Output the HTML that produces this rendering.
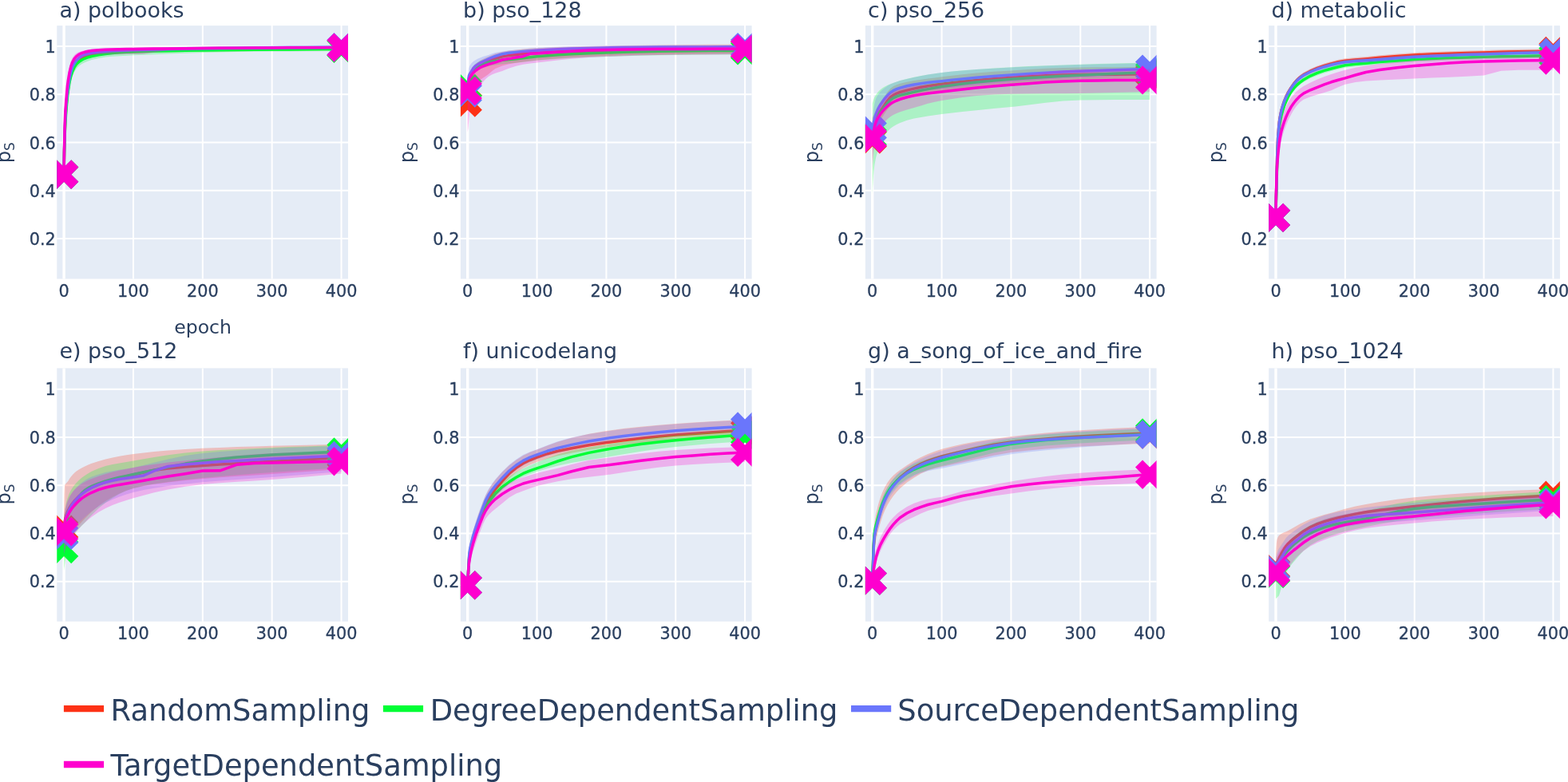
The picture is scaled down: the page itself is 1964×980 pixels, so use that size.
<!DOCTYPE html>
<html><head><meta charset="utf-8"><style>html,body{margin:0;padding:0;background:#fff;overflow:hidden}</style></head>
<body>
<svg width="1964" height="980" viewBox="0 0 1964 980" style="display:block">
<rect width="1964" height="980" fill="#fff"/>
<defs>
<clipPath id="cp00"><rect x="71.30" y="32.10" width="364.70" height="317.40"/></clipPath>
<clipPath id="cp01"><rect x="576.90" y="32.10" width="364.70" height="317.40"/></clipPath>
<clipPath id="cp02"><rect x="1083.90" y="32.10" width="364.70" height="317.40"/></clipPath>
<clipPath id="cp03"><rect x="1589.20" y="32.10" width="364.70" height="317.40"/></clipPath>
<clipPath id="cp10"><rect x="71.30" y="461.40" width="364.70" height="317.40"/></clipPath>
<clipPath id="cp11"><rect x="576.90" y="461.40" width="364.70" height="317.40"/></clipPath>
<clipPath id="cp12"><rect x="1083.90" y="461.40" width="364.70" height="317.40"/></clipPath>
<clipPath id="cp13"><rect x="1589.20" y="461.40" width="364.70" height="317.40"/></clipPath>
</defs>
<rect x="71.30" y="32.10" width="364.70" height="317.40" fill="#e5ecf6"/>
<path d="M166.96,32.10V349.50M253.82,32.10V349.50M340.68,32.10V349.50M427.54,32.10V349.50M71.30,299.12H436.00M71.30,238.84H436.00M71.30,178.56H436.00M71.30,118.28H436.00M71.30,58.00H436.00" stroke="#fff" stroke-width="2.0" fill="none"/>
<path d="M80.10,32.10V349.50" stroke="#fff" stroke-width="3.4" fill="none"/>
<rect x="576.90" y="32.10" width="364.70" height="317.40" fill="#e5ecf6"/>
<path d="M672.56,32.10V349.50M759.42,32.10V349.50M846.28,32.10V349.50M933.14,32.10V349.50M576.90,299.12H941.60M576.90,238.84H941.60M576.90,178.56H941.60M576.90,118.28H941.60M576.90,58.00H941.60" stroke="#fff" stroke-width="2.0" fill="none"/>
<path d="M585.70,32.10V349.50" stroke="#fff" stroke-width="3.4" fill="none"/>
<rect x="1083.90" y="32.10" width="364.70" height="317.40" fill="#e5ecf6"/>
<path d="M1179.56,32.10V349.50M1266.42,32.10V349.50M1353.28,32.10V349.50M1440.14,32.10V349.50M1083.90,299.12H1448.60M1083.90,238.84H1448.60M1083.90,178.56H1448.60M1083.90,118.28H1448.60M1083.90,58.00H1448.60" stroke="#fff" stroke-width="2.0" fill="none"/>
<path d="M1092.70,32.10V349.50" stroke="#fff" stroke-width="3.4" fill="none"/>
<rect x="1589.20" y="32.10" width="364.70" height="317.40" fill="#e5ecf6"/>
<path d="M1684.86,32.10V349.50M1771.72,32.10V349.50M1858.58,32.10V349.50M1945.44,32.10V349.50M1589.20,299.12H1953.90M1589.20,238.84H1953.90M1589.20,178.56H1953.90M1589.20,118.28H1953.90M1589.20,58.00H1953.90" stroke="#fff" stroke-width="2.0" fill="none"/>
<path d="M1598.00,32.10V349.50" stroke="#fff" stroke-width="3.4" fill="none"/>
<rect x="71.30" y="461.40" width="364.70" height="317.40" fill="#e5ecf6"/>
<path d="M166.96,461.40V778.80M253.82,461.40V778.80M340.68,461.40V778.80M427.54,461.40V778.80M71.30,728.82H436.00M71.30,668.54H436.00M71.30,608.26H436.00M71.30,547.98H436.00M71.30,487.70H436.00" stroke="#fff" stroke-width="2.0" fill="none"/>
<path d="M80.10,461.40V778.80" stroke="#fff" stroke-width="3.4" fill="none"/>
<rect x="576.90" y="461.40" width="364.70" height="317.40" fill="#e5ecf6"/>
<path d="M672.56,461.40V778.80M759.42,461.40V778.80M846.28,461.40V778.80M933.14,461.40V778.80M576.90,728.82H941.60M576.90,668.54H941.60M576.90,608.26H941.60M576.90,547.98H941.60M576.90,487.70H941.60" stroke="#fff" stroke-width="2.0" fill="none"/>
<path d="M585.70,461.40V778.80" stroke="#fff" stroke-width="3.4" fill="none"/>
<rect x="1083.90" y="461.40" width="364.70" height="317.40" fill="#e5ecf6"/>
<path d="M1179.56,461.40V778.80M1266.42,461.40V778.80M1353.28,461.40V778.80M1440.14,461.40V778.80M1083.90,728.82H1448.60M1083.90,668.54H1448.60M1083.90,608.26H1448.60M1083.90,547.98H1448.60M1083.90,487.70H1448.60" stroke="#fff" stroke-width="2.0" fill="none"/>
<path d="M1092.70,461.40V778.80" stroke="#fff" stroke-width="3.4" fill="none"/>
<rect x="1589.20" y="461.40" width="364.70" height="317.40" fill="#e5ecf6"/>
<path d="M1684.86,461.40V778.80M1771.72,461.40V778.80M1858.58,461.40V778.80M1945.44,461.40V778.80M1589.20,728.82H1953.90M1589.20,668.54H1953.90M1589.20,608.26H1953.90M1589.20,547.98H1953.90M1589.20,487.70H1953.90" stroke="#fff" stroke-width="2.0" fill="none"/>
<path d="M1598.00,461.40V778.80" stroke="#fff" stroke-width="3.4" fill="none"/>
<g clip-path="url(#cp00)"><path d="M80.1,215.7L80.3,200.0L80.5,187.4L80.8,177.2L81.0,169.0L81.4,157.1L81.8,148.0L82.3,140.0L82.7,133.3L83.6,123.2L84.4,115.4L85.3,108.7L86.2,102.6L87.0,97.4L88.8,89.8L90.5,84.5L93.1,78.6L95.7,74.9L99.2,71.7L102.7,69.5L106.2,67.8L110.5,66.2L114.8,65.1L123.5,63.7L132.2,62.7L140.9,62.0L149.6,61.4L158.3,61.0L167.0,60.6L180.0,60.2L193.0,59.9L210.4,59.5L232.1,59.1L253.8,58.8L275.5,58.5L297.2,58.3L319.0,58.1L340.7,57.9L362.4,57.7L384.1,57.5L405.8,57.4L427.5,57.2L427.5,63.2L405.8,63.4L384.1,63.5L362.4,63.7L340.7,63.9L319.0,64.1L297.2,64.3L275.5,64.5L253.8,64.8L232.1,65.1L210.4,65.5L193.0,65.9L180.0,66.2L167.0,66.6L158.3,67.0L149.6,67.4L140.9,68.0L132.2,68.7L123.5,69.7L114.8,71.1L110.5,72.2L106.2,73.8L102.7,75.5L99.2,77.7L95.7,80.9L93.1,84.6L90.5,90.5L88.8,95.8L87.0,103.4L86.2,108.6L85.3,114.7L84.4,121.4L83.6,129.2L82.7,139.3L82.3,146.0L81.8,154.0L81.4,163.1L81.0,175.0L80.8,183.2L80.5,193.4L80.3,206.0L80.1,221.7Z" fill="rgba(253,50,22,0.25)" stroke="none"/><path d="M80.1,218.7L80.3,203.0L80.5,190.4L80.8,180.2L81.0,172.0L81.4,160.1L81.8,151.0L82.3,143.0L82.7,136.3L83.6,126.2L84.4,118.4L85.3,111.7L86.2,105.6L87.0,100.4L88.8,92.8L90.5,87.5L93.1,81.6L95.7,77.9L99.2,74.7L102.7,72.5L106.2,70.8L110.5,69.2L114.8,68.1L123.5,66.7L132.2,65.7L140.9,65.0L149.6,64.4L158.3,64.0L167.0,63.6L180.0,63.2L193.0,62.9L210.4,62.5L232.1,62.1L253.8,61.8L275.5,61.5L297.2,61.3L319.0,61.1L340.7,60.9L362.4,60.7L384.1,60.5L405.8,60.4L427.5,60.2" fill="none" stroke="#FD3216" stroke-width="3.5" stroke-linejoin="round"/><path d="M80.1,227.8L89.2,236.9L98.3,227.8L89.2,218.7L98.3,209.6L89.2,200.5L80.1,209.6L71.0,200.5L61.9,209.6L71.0,218.7L61.9,227.8L71.0,236.9ZM427.5,69.3L436.6,78.4L445.7,69.3L436.6,60.2L445.7,51.1L436.6,42.0L427.5,51.1L418.5,42.0L409.4,51.1L418.5,60.2L409.4,69.3L418.5,78.4Z" fill="#FD3216"/><path d="M80.1,218.7L80.3,203.2L80.5,190.6L80.8,180.4L81.0,172.0L81.4,159.4L81.8,150.0L82.3,142.2L82.7,135.7L83.6,125.0L84.4,116.4L85.3,109.4L86.2,103.7L87.0,98.8L88.8,91.4L90.5,86.1L93.1,80.6L95.7,77.0L99.2,74.0L102.7,72.0L106.2,70.5L110.5,69.1L114.8,68.0L123.5,66.5L132.2,65.5L140.9,64.7L149.6,64.0L158.3,63.6L167.0,63.3L180.0,62.9L193.0,62.5L210.4,62.2L232.1,61.8L253.8,61.5L275.5,61.2L297.2,61.0L319.0,60.8L340.7,60.6L362.4,60.4L384.1,60.3L405.8,60.1L427.5,60.0L427.5,64.1L405.8,64.2L384.1,64.3L362.4,64.4L340.7,64.6L319.0,64.8L297.2,65.1L275.5,65.5L253.8,66.0L232.1,66.7L210.4,67.5L193.0,68.2L180.0,68.7L167.0,69.3L158.3,69.7L149.6,70.3L140.9,70.8L132.2,71.6L123.5,72.9L114.8,75.0L110.5,76.4L106.2,78.2L102.7,80.0L99.2,82.5L95.7,86.0L93.1,90.2L90.5,96.1L88.8,101.4L87.0,109.2L86.2,114.5L85.3,120.5L84.4,127.6L83.6,136.1L82.7,146.5L82.3,152.7L81.8,160.0L81.4,168.7L81.0,180.0L80.8,187.2L80.5,195.9L80.3,206.2L80.1,218.7Z" fill="rgba(0,254,53,0.25)" stroke="none"/><path d="M80.1,218.7L80.3,204.1L80.5,192.3L80.8,182.7L81.0,175.0L81.4,163.7L81.8,155.0L82.3,147.3L82.7,140.7L83.6,130.0L84.4,121.5L85.3,114.5L86.2,108.5L87.0,103.2L88.8,95.4L90.5,90.1L93.1,84.4L95.7,80.5L99.2,77.2L102.7,75.0L106.2,73.3L110.5,71.7L114.8,70.5L123.5,68.8L132.2,67.6L140.9,66.6L149.6,65.8L158.3,65.3L167.0,64.9L180.0,64.4L193.0,64.1L210.4,63.7L232.1,63.3L253.8,63.0L275.5,62.7L297.2,62.5L319.0,62.3L340.7,62.1L362.4,61.9L384.1,61.8L405.8,61.6L427.5,61.5" fill="none" stroke="#00FE35" stroke-width="3.5" stroke-linejoin="round"/><path d="M80.1,227.8L89.2,236.9L98.3,227.8L89.2,218.7L98.3,209.6L89.2,200.5L80.1,209.6L71.0,200.5L61.9,209.6L71.0,218.7L61.9,227.8L71.0,236.9ZM427.5,69.8L436.6,78.9L445.7,69.8L436.6,60.7L445.7,51.6L436.6,42.5L427.5,51.6L418.5,42.5L409.4,51.6L418.5,60.7L409.4,69.8L418.5,78.9Z" fill="#00FE35"/><path d="M80.1,216.2L80.3,199.9L80.5,186.7L80.8,176.1L81.0,167.5L81.4,155.0L81.8,145.5L82.3,137.2L82.7,130.5L83.6,120.9L84.4,113.5L85.3,106.9L86.2,100.9L87.0,95.7L88.8,87.8L90.5,82.3L93.1,76.9L95.7,73.2L99.2,69.7L102.7,67.5L106.2,66.0L110.5,64.7L114.8,63.7L123.5,62.4L132.2,61.7L140.9,61.1L149.6,60.7L158.3,60.4L167.0,60.1L180.0,59.7L193.0,59.4L210.4,59.0L232.1,58.6L253.8,58.3L275.5,58.0L297.2,57.7L319.0,57.5L340.7,57.3L362.4,57.1L384.1,57.0L405.8,56.8L427.5,56.7L427.5,61.7L405.8,61.8L384.1,62.0L362.4,62.1L340.7,62.3L319.0,62.5L297.2,62.7L275.5,63.0L253.8,63.3L232.1,63.6L210.4,64.0L193.0,64.4L180.0,64.7L167.0,65.1L158.3,65.4L149.6,65.7L140.9,66.1L132.2,66.7L123.5,67.4L114.8,68.7L110.5,69.7L106.2,71.0L102.7,72.5L99.2,74.7L95.7,78.2L93.1,81.9L90.5,87.3L88.8,92.8L87.0,100.7L86.2,105.9L85.3,111.9L84.4,118.5L83.6,125.9L82.7,135.5L82.3,142.2L81.8,150.5L81.4,160.0L81.0,172.5L80.8,181.1L80.5,191.7L80.3,204.9L80.1,221.2Z" fill="rgba(106,118,252,0.25)" stroke="none"/><path d="M80.1,218.7L80.3,202.4L80.5,189.2L80.8,178.6L81.0,170.0L81.4,157.5L81.8,148.0L82.3,139.7L82.7,133.0L83.6,123.4L84.4,116.0L85.3,109.4L86.2,103.4L87.0,98.2L88.8,90.3L90.5,84.8L93.1,79.4L95.7,75.7L99.2,72.2L102.7,70.0L106.2,68.5L110.5,67.2L114.8,66.2L123.5,64.9L132.2,64.2L140.9,63.6L149.6,63.2L158.3,62.9L167.0,62.6L180.0,62.2L193.0,61.9L210.4,61.5L232.1,61.1L253.8,60.8L275.5,60.5L297.2,60.2L319.0,60.0L340.7,59.8L362.4,59.6L384.1,59.5L405.8,59.3L427.5,59.2" fill="none" stroke="#6A76FC" stroke-width="3.5" stroke-linejoin="round"/><path d="M80.1,227.8L89.2,236.9L98.3,227.8L89.2,218.7L98.3,209.6L89.2,200.5L80.1,209.6L71.0,200.5L61.9,209.6L71.0,218.7L61.9,227.8L71.0,236.9ZM427.5,68.3L436.6,77.4L445.7,68.3L436.6,59.2L445.7,50.1L436.6,41.0L427.5,50.1L418.5,41.0L409.4,50.1L418.5,59.2L409.4,68.3L418.5,77.4Z" fill="#6A76FC"/><path d="M80.1,218.7L80.3,198.1L80.5,181.6L80.8,168.4L81.0,158.0L81.4,142.6L81.8,132.0L82.3,124.7L82.7,118.6L83.6,108.0L84.4,99.7L85.3,93.4L86.2,88.3L87.0,84.0L88.8,77.0L90.5,72.7L93.1,68.9L95.7,66.8L99.2,65.1L102.7,63.9L106.2,63.1L110.5,62.3L114.8,61.8L123.5,61.0L132.2,60.5L140.9,60.2L149.6,60.1L158.3,59.9L167.0,59.8L180.0,59.6L193.0,59.4L210.4,59.2L232.1,58.9L253.8,58.7L275.5,58.5L297.2,58.4L319.0,58.2L340.7,58.1L362.4,58.0L384.1,57.9L405.8,57.9L427.5,57.8L427.5,60.5L405.8,60.6L384.1,60.7L362.4,60.8L340.7,61.0L319.0,61.2L297.2,61.4L275.5,61.6L253.8,62.0L232.1,62.4L210.4,63.1L193.0,65.8L180.0,67.8L167.0,68.0L158.3,68.1L149.6,68.1L140.9,68.2L132.2,68.3L123.5,68.6L114.8,69.1L110.5,69.5L106.2,70.4L102.7,71.7L99.2,73.3L95.7,75.8L93.1,78.6L90.5,83.3L88.8,88.3L87.0,96.0L86.2,100.6L85.3,106.0L84.4,112.8L83.6,122.2L82.7,133.7L82.3,139.1L81.8,145.0L81.4,155.2L81.0,170.0L80.8,179.1L80.5,189.9L80.3,202.9L80.1,218.7Z" fill="rgba(254,0,206,0.25)" stroke="none"/><path d="M80.1,218.7L80.3,200.8L80.5,186.4L80.8,174.6L81.0,165.0L81.4,150.2L81.8,140.0L82.3,133.4L82.7,127.6L83.6,116.6L84.4,107.7L85.3,101.1L86.2,95.6L87.0,91.0L88.8,83.3L90.5,78.3L93.1,73.6L95.7,70.6L99.2,68.0L102.7,66.4L106.2,65.3L110.5,64.3L114.8,63.6L123.5,62.7L132.2,62.2L140.9,62.0L149.6,61.8L158.3,61.6L167.0,61.4L180.0,61.2L193.0,61.1L210.4,60.9L232.1,60.7L253.8,60.5L275.5,60.3L297.2,60.2L319.0,60.0L340.7,59.9L362.4,59.8L384.1,59.7L405.8,59.7L427.5,59.6" fill="none" stroke="#FE00CE" stroke-width="3.5" stroke-linejoin="round"/><path d="M80.1,227.8L89.2,236.9L98.3,227.8L89.2,218.7L98.3,209.6L89.2,200.5L80.1,209.6L71.0,200.5L61.9,209.6L71.0,218.7L61.9,227.8L71.0,236.9ZM427.5,68.7L436.6,77.8L445.7,68.7L436.6,59.6L445.7,50.5L436.6,41.4L427.5,50.5L418.5,41.4L409.4,50.5L418.5,59.6L409.4,68.7L418.5,77.8Z" fill="#FE00CE"/></g>
<g clip-path="url(#cp01)"><path d="M585.7,122.6L585.9,117.6L586.1,113.4L586.4,109.8L586.6,106.9L587.0,102.3L587.4,99.0L587.9,96.7L588.3,94.9L589.2,92.3L590.0,90.0L590.9,87.9L591.8,86.1L592.6,84.5L594.4,82.0L596.1,80.1L598.7,77.9L601.3,76.1L604.8,74.0L608.3,72.2L611.8,70.7L616.1,68.9L620.4,67.3L629.1,64.9L637.8,63.4L646.5,62.4L655.2,61.5L663.9,60.8L672.6,60.3L685.6,59.7L698.6,59.1L716.0,58.6L737.7,58.0L759.4,57.5L781.1,57.1L802.8,56.7L824.6,56.4L846.3,56.2L868.0,56.0L889.7,55.8L911.4,55.7L933.1,55.6L933.1,67.0L911.4,67.2L889.7,67.4L868.0,67.7L846.3,68.0L824.6,68.4L802.8,68.8L781.1,69.3L759.4,70.0L737.7,70.9L716.0,72.1L698.6,73.3L685.6,74.3L672.6,75.5L663.9,76.4L655.2,77.4L646.5,78.7L637.8,80.3L629.1,82.5L620.4,86.0L616.1,89.3L611.8,93.1L608.3,95.5L604.8,97.8L601.3,100.0L598.7,101.6L596.1,103.4L594.4,105.0L592.6,107.1L591.8,108.4L590.9,110.0L590.0,112.0L589.2,114.6L588.3,117.9L587.9,120.0L587.4,122.5L587.0,125.5L586.6,129.1L586.4,131.3L586.1,133.8L585.9,136.7L585.7,140.0Z" fill="rgba(253,50,22,0.25)" stroke="none"/><path d="M585.7,128.6L585.9,123.6L586.1,119.4L586.4,115.8L586.6,112.9L587.0,108.3L587.4,105.0L587.9,102.7L588.3,100.9L589.2,98.3L590.0,96.0L590.9,93.9L591.8,92.1L592.6,90.5L594.4,88.0L596.1,86.1L598.7,83.9L601.3,82.1L604.8,80.0L608.3,78.2L611.8,76.7L616.1,74.9L620.4,73.3L629.1,70.9L637.8,69.4L646.5,68.4L655.2,67.5L663.9,66.8L672.6,66.3L685.6,65.7L698.6,65.1L716.0,64.6L737.7,64.0L759.4,63.5L781.1,63.1L802.8,62.7L824.6,62.4L846.3,62.2L868.0,62.0L889.7,61.8L911.4,61.7L933.1,61.6" fill="none" stroke="#FD3216" stroke-width="3.5" stroke-linejoin="round"/><path d="M585.7,137.7L594.8,146.8L603.9,137.7L594.8,128.6L603.9,119.5L594.8,110.4L585.7,119.5L576.6,110.4L567.5,119.5L576.6,128.6L567.5,137.7L576.6,146.8ZM933.1,70.7L942.2,79.8L951.3,70.7L942.2,61.6L951.3,52.5L942.2,43.4L933.1,52.5L924.1,43.4L915.0,52.5L924.1,61.6L915.0,70.7L924.1,79.8Z" fill="#FD3216"/><path d="M585.7,106.0L585.9,103.3L586.1,101.1L586.4,99.2L586.6,97.6L587.0,95.0L587.4,93.0L587.9,91.5L588.3,90.4L589.2,88.6L590.0,87.0L590.9,85.5L591.8,84.1L592.6,82.9L594.4,81.0L596.1,79.5L598.7,77.7L601.3,76.3L604.8,75.0L608.3,73.9L611.8,73.0L616.1,72.2L620.4,71.4L629.1,70.3L637.8,69.4L646.5,68.7L655.2,67.8L663.9,66.8L672.6,65.8L685.6,64.7L698.6,63.8L716.0,62.8L737.7,61.8L759.4,61.0L781.1,60.3L802.8,59.8L824.6,59.3L846.3,59.0L868.0,58.8L889.7,58.6L911.4,58.5L933.1,58.4L933.1,68.4L911.4,68.5L889.7,68.6L868.0,68.8L846.3,69.0L824.6,69.3L802.8,69.8L781.1,70.3L759.4,71.0L737.7,71.8L716.0,72.8L698.6,73.8L685.6,74.7L672.6,75.8L663.9,76.8L655.2,77.8L646.5,78.7L637.8,79.4L629.1,80.3L620.4,81.4L616.1,82.2L611.8,83.0L608.3,83.9L604.8,85.0L601.3,86.3L598.7,87.7L596.1,89.5L594.4,91.0L592.6,92.9L591.8,94.1L590.9,95.5L590.0,97.0L589.2,98.6L588.3,100.4L587.9,101.5L587.4,103.0L587.0,105.0L586.6,107.6L586.4,109.2L586.1,111.1L585.9,113.3L585.7,116.0Z" fill="rgba(0,254,53,0.25)" stroke="none"/><path d="M585.7,111.0L585.9,108.3L586.1,106.1L586.4,104.2L586.6,102.6L587.0,100.0L587.4,98.0L587.9,96.5L588.3,95.4L589.2,93.6L590.0,92.0L590.9,90.5L591.8,89.1L592.6,87.9L594.4,86.0L596.1,84.5L598.7,82.7L601.3,81.3L604.8,80.0L608.3,78.9L611.8,78.0L616.1,77.2L620.4,76.4L629.1,75.3L637.8,74.4L646.5,73.7L655.2,72.8L663.9,71.8L672.6,70.8L685.6,69.7L698.6,68.8L716.0,67.8L737.7,66.8L759.4,66.0L781.1,65.3L802.8,64.8L824.6,64.3L846.3,64.0L868.0,63.8L889.7,63.6L911.4,63.5L933.1,63.4" fill="none" stroke="#00FE35" stroke-width="3.5" stroke-linejoin="round"/><path d="M585.7,120.1L594.8,129.2L603.9,120.1L594.8,111.0L603.9,101.9L594.8,92.8L585.7,101.9L576.6,92.8L567.5,101.9L576.6,111.0L567.5,120.1L576.6,129.2ZM933.1,72.5L942.2,81.6L951.3,72.5L942.2,63.4L951.3,54.3L942.2,45.2L933.1,54.3L924.1,45.2L915.0,54.3L924.1,63.4L915.0,72.5L924.1,81.6Z" fill="#00FE35"/><path d="M585.7,110.0L585.9,104.2L586.1,99.3L586.4,95.4L586.6,92.2L587.0,87.6L587.4,85.0L587.9,83.6L588.3,82.6L589.2,81.2L590.0,80.0L590.9,79.0L591.8,78.1L592.6,77.3L594.4,76.0L596.1,74.9L598.7,73.5L601.3,72.4L604.8,71.1L608.3,70.0L611.8,68.9L616.1,67.3L620.4,66.0L629.1,64.4L637.8,63.3L646.5,62.5L655.2,61.7L663.9,60.6L672.6,59.8L685.6,59.1L698.6,58.6L716.0,58.1L737.7,57.6L759.4,57.3L781.1,57.1L802.8,56.9L824.6,56.7L846.3,56.6L868.0,56.5L889.7,56.4L911.4,56.4L933.1,56.3L933.1,63.8L911.4,63.8L889.7,63.9L868.0,63.9L846.3,64.0L824.6,64.1L802.8,64.3L781.1,64.6L759.4,64.9L737.7,65.4L716.0,66.1L698.6,66.8L685.6,67.5L672.6,68.3L663.9,68.9L655.2,69.6L646.5,70.4L637.8,71.3L629.1,72.7L620.4,75.5L616.1,77.1L611.8,78.9L608.3,80.5L604.8,82.2L601.3,84.1L598.7,85.6L596.1,87.4L594.4,88.9L592.6,91.0L591.8,92.4L590.9,93.8L590.0,95.3L589.2,96.6L588.3,97.8L587.9,98.7L587.4,100.0L587.0,102.3L586.6,106.3L586.4,109.0L586.1,112.4L585.9,116.5L585.7,121.5Z" fill="rgba(106,118,252,0.25)" stroke="none"/><path d="M585.7,116.5L585.9,111.5L586.1,107.4L586.4,104.0L586.6,101.3L587.0,97.3L587.4,95.0L587.9,93.7L588.3,92.8L589.2,91.6L590.0,90.3L590.9,88.8L591.8,87.4L592.6,86.0L594.4,83.9L596.1,82.4L598.7,80.6L601.3,79.1L604.8,77.2L608.3,75.5L611.8,73.9L616.1,72.1L620.4,70.5L629.1,67.7L637.8,66.3L646.5,65.4L655.2,64.6L663.9,63.9L672.6,63.3L685.6,62.5L698.6,61.8L716.0,61.1L737.7,60.4L759.4,59.9L781.1,59.6L802.8,59.3L824.6,59.1L846.3,59.0L868.0,58.9L889.7,58.9L911.4,58.8L933.1,58.8" fill="none" stroke="#6A76FC" stroke-width="3.5" stroke-linejoin="round"/><path d="M585.7,125.6L594.8,134.7L603.9,125.6L594.8,116.5L603.9,107.4L594.8,98.3L585.7,107.4L576.6,98.3L567.5,107.4L576.6,116.5L567.5,125.6L576.6,134.7ZM933.1,68.3L942.2,77.4L951.3,68.3L942.2,59.2L951.3,50.1L942.2,41.0L933.1,50.1L924.1,41.0L915.0,50.1L924.1,59.2L915.0,68.3L924.1,77.4Z" fill="#6A76FC"/><path d="M585.7,105.0L585.9,102.2L586.1,99.9L586.4,98.0L586.6,96.3L587.0,93.8L587.4,92.0L587.9,90.7L588.3,89.8L589.2,88.3L590.0,87.0L590.9,85.7L591.8,84.5L592.6,83.5L594.4,81.6L596.1,80.2L598.7,78.5L601.3,77.3L604.8,75.8L608.3,74.5L611.8,73.5L616.1,72.4L620.4,71.5L629.1,69.7L637.8,68.0L646.5,66.0L655.2,64.0L663.9,62.5L672.6,61.5L685.6,60.6L698.6,60.0L716.0,59.4L737.7,58.9L759.4,58.5L781.1,58.2L802.8,58.1L824.6,57.9L846.3,57.8L868.0,57.7L889.7,57.6L911.4,57.6L933.1,57.5L933.1,68.3L911.4,68.3L889.7,68.4L868.0,68.6L846.3,68.8L824.6,69.1L802.8,69.6L781.1,70.2L759.4,71.0L737.7,72.1L716.0,73.8L698.6,75.4L685.6,76.9L672.6,78.5L663.9,79.6L655.2,80.8L646.5,82.8L637.8,85.5L629.1,89.0L620.4,91.7L616.1,93.6L611.8,96.0L608.3,99.0L604.8,102.9L601.3,106.0L598.7,108.0L596.1,110.1L594.4,112.0L592.6,114.3L591.8,115.8L590.9,118.0L590.0,122.7L589.2,130.0L588.3,139.5L587.9,145.1L587.4,150.0L587.0,154.2L586.6,158.7L586.4,160.9L586.1,163.0L585.9,164.8L585.7,166.0Z" fill="rgba(254,0,206,0.25)" stroke="none"/><path d="M585.7,114.0L585.9,111.0L586.1,108.5L586.4,106.4L586.6,104.6L587.0,101.9L587.4,100.0L587.9,98.7L588.3,97.8L589.2,96.3L590.0,95.0L590.9,93.7L591.8,92.6L592.6,91.6L594.4,89.8L596.1,88.3L598.7,86.4L601.3,84.8L604.8,83.1L608.3,81.8L611.8,80.6L616.1,79.3L620.4,78.1L629.1,75.0L637.8,73.6L646.5,72.0L655.2,70.7L663.9,67.3L672.6,66.9L685.6,66.1L698.6,65.2L716.0,64.2L737.7,63.1L759.4,62.5L781.1,62.1L802.8,61.8L824.6,61.6L846.3,61.5L868.0,61.4L889.7,61.3L911.4,61.2L933.1,61.2" fill="none" stroke="#FE00CE" stroke-width="3.5" stroke-linejoin="round"/><path d="M585.7,123.1L594.8,132.2L603.9,123.1L594.8,114.0L603.9,104.9L594.8,95.8L585.7,104.9L576.6,95.8L567.5,104.9L576.6,114.0L567.5,123.1L576.6,132.2ZM933.1,70.3L942.2,79.4L951.3,70.3L942.2,61.2L951.3,52.1L942.2,43.0L933.1,52.1L924.1,43.0L915.0,52.1L924.1,61.2L915.0,70.3L924.1,79.4Z" fill="#FE00CE"/></g>
<g clip-path="url(#cp02)"><path d="M1092.7,146.5L1092.9,146.5L1093.1,146.4L1093.4,146.2L1093.6,145.9L1094.0,145.1L1094.4,144.0L1094.9,142.9L1095.3,142.0L1096.2,140.1L1097.0,138.0L1097.9,136.0L1098.8,134.3L1099.6,132.8L1101.4,130.1L1103.1,127.6L1105.7,124.0L1108.3,120.1L1111.8,115.1L1115.3,111.0L1118.8,108.3L1123.1,106.2L1127.4,104.8L1136.1,102.8L1144.8,101.1L1153.5,99.7L1162.2,98.5L1170.9,97.4L1179.6,96.3L1192.6,94.7L1205.6,93.2L1223.0,91.6L1244.7,89.8L1266.4,88.4L1288.1,87.0L1309.9,85.8L1331.6,84.9L1353.3,84.5L1375.0,84.3L1396.7,84.2L1418.4,84.1L1440.1,84.1L1440.1,102.1L1418.4,102.1L1396.7,102.2L1375.0,102.3L1353.3,102.5L1331.6,102.9L1309.9,103.8L1288.1,105.0L1266.4,106.4L1244.7,107.8L1223.0,109.6L1205.6,111.2L1192.6,112.7L1179.6,114.3L1170.9,115.6L1162.2,117.1L1153.5,119.0L1144.8,121.1L1136.1,123.4L1127.4,126.3L1123.1,128.0L1118.8,130.3L1115.3,133.0L1111.8,137.1L1108.3,142.1L1105.7,146.0L1103.1,149.7L1101.4,152.5L1099.6,155.6L1098.8,157.4L1097.9,159.5L1097.0,162.0L1096.2,165.3L1095.3,169.8L1094.9,172.6L1094.4,176.0L1094.0,180.2L1093.6,185.6L1093.4,188.9L1093.1,192.8L1092.9,197.3L1092.7,202.5Z" fill="rgba(253,50,22,0.25)" stroke="none"/><path d="M1092.7,174.5L1092.9,171.9L1093.1,169.6L1093.4,167.5L1093.6,165.7L1094.0,162.6L1094.4,160.0L1094.9,157.8L1095.3,155.9L1096.2,152.7L1097.0,150.0L1097.9,147.8L1098.8,145.9L1099.6,144.2L1101.4,141.3L1103.1,138.7L1105.7,135.0L1108.3,131.1L1111.8,126.1L1115.3,122.0L1118.8,119.3L1123.1,117.1L1127.4,115.5L1136.1,113.1L1144.8,111.1L1153.5,109.3L1162.2,107.8L1170.9,106.5L1179.6,105.3L1192.6,103.7L1205.6,102.2L1223.0,100.6L1244.7,98.8L1266.4,97.4L1288.1,96.0L1309.9,94.8L1331.6,93.9L1353.3,93.5L1375.0,93.3L1396.7,93.2L1418.4,93.1L1440.1,93.1" fill="none" stroke="#FD3216" stroke-width="3.5" stroke-linejoin="round"/><path d="M1092.7,183.6L1101.8,192.7L1110.9,183.6L1101.8,174.5L1110.9,165.4L1101.8,156.3L1092.7,165.4L1083.6,156.3L1074.5,165.4L1083.6,174.5L1074.5,183.6L1083.6,192.7ZM1440.1,102.2L1449.2,111.3L1458.3,102.2L1449.2,93.1L1458.3,84.0L1449.2,74.9L1440.1,84.0L1431.1,74.9L1422.0,84.0L1431.1,93.1L1422.0,102.2L1431.1,111.3Z" fill="#FD3216"/><path d="M1092.7,130.0L1092.9,129.0L1093.1,128.1L1093.4,127.3L1093.6,126.5L1094.0,125.2L1094.4,124.0L1094.9,123.0L1095.3,122.0L1096.2,120.4L1097.0,119.0L1097.9,117.7L1098.8,116.5L1099.6,115.4L1101.4,113.5L1103.1,111.9L1105.7,110.0L1108.3,108.5L1111.8,106.8L1115.3,105.3L1118.8,104.0L1123.1,102.5L1127.4,101.1L1136.1,98.8L1144.8,96.8L1153.5,95.1L1162.2,93.5L1170.9,92.2L1179.6,91.0L1192.6,89.5L1205.6,88.3L1223.0,86.9L1244.7,85.4L1266.4,84.2L1288.1,83.1L1309.9,82.2L1331.6,81.4L1353.3,80.7L1375.0,80.1L1396.7,79.5L1418.4,79.0L1440.1,78.5L1440.1,124.9L1418.4,124.9L1396.7,125.1L1375.0,125.3L1353.3,125.6L1331.6,126.6L1309.9,128.7L1288.1,131.5L1266.4,134.1L1244.7,136.1L1223.0,138.2L1205.6,139.9L1192.6,141.4L1179.6,143.0L1170.9,144.2L1162.2,145.5L1153.5,146.9L1144.8,148.6L1136.1,150.8L1127.4,154.0L1123.1,156.0L1118.8,158.6L1115.3,161.1L1111.8,164.5L1108.3,169.7L1105.7,175.2L1103.1,181.6L1101.4,185.6L1099.6,189.8L1098.8,192.0L1097.9,194.7L1097.0,198.0L1096.2,202.2L1095.3,207.6L1094.9,211.0L1094.4,215.0L1094.0,220.0L1093.6,226.2L1093.4,229.9L1093.1,234.2L1092.9,239.2L1092.7,245.0Z" fill="rgba(0,254,53,0.25)" stroke="none"/><path d="M1092.7,172.0L1092.9,170.0L1093.1,168.2L1093.4,166.5L1093.6,165.0L1094.0,162.3L1094.4,160.0L1094.9,157.9L1095.3,155.9L1096.2,152.6L1097.0,150.0L1097.9,147.9L1098.8,146.3L1099.6,144.9L1101.4,142.4L1103.1,140.2L1105.7,137.0L1108.3,133.6L1111.8,129.0L1115.3,125.4L1118.8,122.9L1123.1,120.9L1127.4,119.4L1136.1,117.2L1144.8,115.2L1153.5,113.3L1162.2,111.6L1170.9,110.0L1179.6,108.6L1192.6,106.7L1205.6,105.0L1223.0,103.1L1244.7,101.0L1266.4,99.2L1288.1,97.7L1309.9,96.4L1331.6,95.3L1353.3,94.2L1375.0,93.2L1396.7,92.3L1418.4,91.5L1440.1,90.7" fill="none" stroke="#00FE35" stroke-width="3.5" stroke-linejoin="round"/><path d="M1092.7,181.1L1101.8,190.2L1110.9,181.1L1101.8,172.0L1110.9,162.9L1101.8,153.8L1092.7,162.9L1083.6,153.8L1074.5,162.9L1083.6,172.0L1074.5,181.1L1083.6,190.2ZM1440.1,99.8L1449.2,108.9L1458.3,99.8L1449.2,90.7L1458.3,81.6L1449.2,72.5L1440.1,81.6L1431.1,72.5L1422.0,81.6L1431.1,90.7L1422.0,99.8L1431.1,108.9Z" fill="#00FE35"/><path d="M1092.7,150.0L1092.9,147.3L1093.1,145.0L1093.4,142.9L1093.6,141.0L1094.0,137.8L1094.4,135.0L1094.9,132.6L1095.3,130.4L1096.2,126.7L1097.0,124.0L1097.9,121.9L1098.8,120.2L1099.6,118.8L1101.4,116.4L1103.1,114.5L1105.7,112.0L1108.3,109.9L1111.8,107.5L1115.3,105.6L1118.8,104.0L1123.1,102.4L1127.4,101.1L1136.1,98.9L1144.8,97.0L1153.5,95.2L1162.2,93.6L1170.9,92.2L1179.6,91.0L1192.6,89.6L1205.6,88.4L1223.0,87.1L1244.7,85.7L1266.4,84.5L1288.1,83.4L1309.9,82.5L1331.6,81.7L1353.3,81.0L1375.0,80.4L1396.7,79.9L1418.4,79.4L1440.1,79.0L1440.1,94.6L1418.4,95.1L1396.7,95.7L1375.0,96.4L1353.3,97.2L1331.6,98.2L1309.9,99.6L1288.1,101.2L1266.4,102.9L1244.7,104.7L1223.0,106.8L1205.6,108.7L1192.6,110.2L1179.6,111.7L1170.9,112.6L1162.2,113.6L1153.5,114.7L1144.8,116.0L1136.1,117.9L1127.4,120.5L1123.1,122.4L1118.8,124.7L1115.3,127.4L1111.8,131.2L1108.3,136.0L1105.7,139.9L1103.1,144.0L1101.4,147.1L1099.6,150.7L1098.8,152.7L1097.9,154.9L1097.0,157.3L1096.2,159.9L1095.3,162.4L1094.9,163.7L1094.4,165.0L1094.0,166.0L1093.6,166.2L1093.4,166.0L1093.1,165.5L1092.9,164.7L1092.7,163.5Z" fill="rgba(106,118,252,0.25)" stroke="none"/><path d="M1092.7,163.5L1092.9,161.8L1093.1,160.3L1093.4,158.9L1093.6,157.5L1094.0,155.1L1094.4,153.0L1094.9,151.1L1095.3,149.3L1096.2,146.0L1097.0,143.3L1097.9,140.9L1098.8,138.8L1099.6,136.9L1101.4,133.5L1103.1,130.7L1105.7,126.9L1108.3,123.4L1111.8,119.3L1115.3,116.0L1118.8,113.7L1123.1,111.7L1127.4,110.1L1136.1,107.8L1144.8,106.0L1153.5,104.7L1162.2,103.6L1170.9,102.6L1179.6,101.7L1192.6,100.3L1205.6,98.9L1223.0,97.3L1244.7,95.5L1266.4,93.9L1288.1,92.5L1309.9,91.2L1331.6,90.1L1353.3,89.2L1375.0,88.4L1396.7,87.7L1418.4,87.1L1440.1,86.6" fill="none" stroke="#6A76FC" stroke-width="3.5" stroke-linejoin="round"/><path d="M1092.7,172.6L1101.8,181.7L1110.9,172.6L1101.8,163.5L1110.9,154.4L1101.8,145.3L1092.7,154.4L1083.6,145.3L1074.5,154.4L1083.6,163.5L1074.5,172.6L1083.6,181.7ZM1440.1,95.7L1449.2,104.8L1458.3,95.7L1449.2,86.6L1458.3,77.5L1449.2,68.4L1440.1,77.5L1431.1,68.4L1422.0,77.5L1431.1,86.6L1422.0,95.7L1431.1,104.8Z" fill="#6A76FC"/><path d="M1092.7,173.3L1092.9,169.3L1093.1,165.9L1093.4,162.9L1093.6,160.3L1094.0,156.1L1094.4,153.0L1094.9,150.5L1095.3,148.3L1096.2,144.5L1097.0,141.5L1097.9,138.9L1098.8,136.7L1099.6,134.7L1101.4,131.3L1103.1,128.6L1105.7,125.2L1108.3,122.4L1111.8,119.3L1115.3,116.9L1118.8,115.0L1123.1,113.2L1127.4,111.7L1136.1,109.4L1144.8,107.8L1153.5,106.9L1162.2,106.4L1170.9,105.9L1179.6,105.0L1192.6,103.4L1205.6,101.7L1223.0,99.7L1244.7,97.3L1266.4,95.3L1288.1,92.9L1309.9,90.3L1331.6,88.3L1353.3,87.3L1375.0,86.9L1396.7,86.6L1418.4,86.5L1440.1,86.4L1440.1,115.0L1418.4,115.6L1396.7,116.1L1375.0,116.6L1353.3,117.0L1331.6,117.2L1309.9,117.3L1288.1,117.5L1266.4,117.7L1244.7,118.5L1223.0,120.1L1205.6,122.1L1192.6,123.9L1179.6,126.0L1170.9,127.7L1162.2,129.8L1153.5,132.4L1144.8,135.0L1136.1,137.5L1127.4,140.2L1123.1,141.9L1118.8,144.0L1115.3,146.3L1111.8,149.1L1108.3,152.8L1105.7,156.0L1103.1,159.7L1101.4,162.7L1099.6,166.2L1098.8,168.4L1097.9,170.9L1097.0,174.0L1096.2,177.9L1095.3,183.1L1094.9,186.3L1094.4,190.0L1094.0,194.4L1093.6,199.7L1093.4,202.8L1093.1,206.3L1092.9,210.3L1092.7,215.0Z" fill="rgba(254,0,206,0.25)" stroke="none"/><path d="M1092.7,173.3L1092.9,171.7L1093.1,170.2L1093.4,168.8L1093.6,167.5L1094.0,165.1L1094.4,163.0L1094.9,161.1L1095.3,159.3L1096.2,156.1L1097.0,153.5L1097.9,151.3L1098.8,149.4L1099.6,147.8L1101.4,144.9L1103.1,142.4L1105.7,139.2L1108.3,136.3L1111.8,132.9L1115.3,130.1L1118.8,128.0L1123.1,126.0L1127.4,124.3L1136.1,121.8L1144.8,119.8L1153.5,118.3L1162.2,117.1L1170.9,116.1L1179.6,115.0L1192.6,113.4L1205.6,111.9L1223.0,110.0L1244.7,108.0L1266.4,106.3L1288.1,104.7L1309.9,103.1L1331.6,102.0L1353.3,101.3L1375.0,100.9L1396.7,100.6L1418.4,100.5L1440.1,100.4" fill="none" stroke="#FE00CE" stroke-width="3.5" stroke-linejoin="round"/><path d="M1092.7,182.4L1101.8,191.5L1110.9,182.4L1101.8,173.3L1110.9,164.2L1101.8,155.1L1092.7,164.2L1083.6,155.1L1074.5,164.2L1083.6,173.3L1074.5,182.4L1083.6,191.5ZM1440.1,109.5L1449.2,118.6L1458.3,109.5L1449.2,100.4L1458.3,91.3L1449.2,82.2L1440.1,91.3L1431.1,82.2L1422.0,91.3L1431.1,100.4L1422.0,109.5L1431.1,118.6Z" fill="#FE00CE"/></g>
<g clip-path="url(#cp03)"><path d="M1598.0,269.9L1598.2,256.4L1598.4,244.4L1598.7,233.8L1598.9,224.3L1599.3,207.5L1599.7,192.4L1600.2,179.9L1600.6,170.5L1601.5,158.5L1602.3,150.3L1603.2,144.3L1604.1,139.5L1604.9,135.6L1606.7,129.4L1608.4,124.2L1611.0,117.8L1613.6,112.6L1617.1,106.9L1620.6,102.0L1624.1,97.9L1628.4,93.9L1632.7,90.8L1641.4,86.2L1650.1,82.4L1658.8,79.4L1667.5,76.9L1676.2,74.8L1684.9,73.3L1697.9,72.0L1710.9,70.9L1728.3,69.3L1750.0,67.4L1771.7,66.0L1793.4,65.0L1815.2,64.2L1836.9,63.5L1858.6,62.9L1880.3,62.3L1902.0,61.8L1923.7,61.4L1945.4,61.0L1945.4,67.0L1923.7,67.4L1902.0,67.8L1880.3,68.3L1858.6,68.9L1836.9,69.5L1815.2,70.2L1793.4,71.0L1771.7,72.0L1750.0,73.4L1728.3,75.3L1710.9,76.9L1697.9,78.0L1684.9,79.3L1676.2,80.8L1667.5,82.9L1658.8,85.4L1650.1,88.4L1641.4,92.2L1632.7,96.8L1628.4,99.9L1624.1,103.9L1620.6,108.0L1617.1,112.9L1613.6,118.6L1611.0,123.8L1608.4,130.2L1606.7,135.4L1604.9,141.6L1604.1,145.5L1603.2,150.3L1602.3,156.3L1601.5,164.5L1600.6,176.5L1600.2,185.9L1599.7,198.4L1599.3,213.5L1598.9,230.3L1598.7,239.8L1598.4,250.4L1598.2,262.4L1598.0,275.9Z" fill="rgba(253,50,22,0.25)" stroke="none"/><path d="M1598.0,272.9L1598.2,259.4L1598.4,247.4L1598.7,236.8L1598.9,227.3L1599.3,210.5L1599.7,195.4L1600.2,182.9L1600.6,173.5L1601.5,161.5L1602.3,153.3L1603.2,147.3L1604.1,142.5L1604.9,138.6L1606.7,132.4L1608.4,127.2L1611.0,120.8L1613.6,115.6L1617.1,109.9L1620.6,105.0L1624.1,100.9L1628.4,96.9L1632.7,93.8L1641.4,89.2L1650.1,85.4L1658.8,82.4L1667.5,79.9L1676.2,77.8L1684.9,76.3L1697.9,75.0L1710.9,73.9L1728.3,72.3L1750.0,70.4L1771.7,69.0L1793.4,68.0L1815.2,67.2L1836.9,66.5L1858.6,65.9L1880.3,65.3L1902.0,64.8L1923.7,64.4L1945.4,64.0" fill="none" stroke="#FD3216" stroke-width="3.5" stroke-linejoin="round"/><path d="M1598.0,282.0L1607.1,291.1L1616.2,282.0L1607.1,272.9L1616.2,263.8L1607.1,254.7L1598.0,263.8L1588.9,254.7L1579.8,263.8L1588.9,272.9L1579.8,282.0L1588.9,291.1ZM1945.4,73.1L1954.5,82.2L1963.6,73.1L1954.5,64.0L1963.6,54.9L1954.5,45.8L1945.4,54.9L1936.4,45.8L1927.3,54.9L1936.4,64.0L1927.3,73.1L1936.4,82.2Z" fill="#FD3216"/><path d="M1598.0,269.9L1598.2,259.1L1598.4,249.3L1598.7,240.3L1598.9,232.0L1599.3,217.0L1599.7,202.7L1600.2,189.4L1600.6,178.4L1601.5,164.9L1602.3,156.9L1603.2,151.1L1604.1,146.2L1604.9,142.1L1606.7,135.5L1608.4,130.2L1611.0,123.7L1613.6,118.2L1617.1,112.2L1620.6,107.6L1624.1,103.9L1628.4,100.1L1632.7,97.0L1641.4,92.1L1650.1,88.4L1658.8,85.4L1667.5,83.0L1676.2,80.8L1684.9,78.8L1697.9,77.2L1710.9,76.2L1728.3,74.6L1750.0,72.9L1771.7,71.5L1793.4,70.5L1815.2,69.6L1836.9,68.9L1858.6,68.3L1880.3,67.8L1902.0,67.4L1923.7,67.0L1945.4,66.7L1945.4,72.7L1923.7,73.0L1902.0,73.4L1880.3,73.8L1858.6,74.3L1836.9,74.9L1815.2,75.6L1793.4,76.5L1771.7,77.5L1750.0,78.9L1728.3,80.6L1710.9,82.2L1697.9,83.2L1684.9,84.8L1676.2,86.8L1667.5,89.0L1658.8,91.4L1650.1,94.4L1641.4,98.1L1632.7,103.0L1628.4,106.1L1624.1,109.9L1620.6,113.6L1617.1,118.2L1613.6,124.2L1611.0,129.7L1608.4,136.2L1606.7,141.5L1604.9,148.1L1604.1,152.2L1603.2,157.1L1602.3,162.9L1601.5,170.9L1600.6,184.4L1600.2,195.4L1599.7,208.7L1599.3,223.0L1598.9,238.0L1598.7,246.3L1598.4,255.3L1598.2,265.1L1598.0,275.9Z" fill="rgba(0,254,53,0.25)" stroke="none"/><path d="M1598.0,272.9L1598.2,262.1L1598.4,252.3L1598.7,243.3L1598.9,235.0L1599.3,220.0L1599.7,205.7L1600.2,192.4L1600.6,181.4L1601.5,167.9L1602.3,159.9L1603.2,154.1L1604.1,149.2L1604.9,145.1L1606.7,138.5L1608.4,133.2L1611.0,126.7L1613.6,121.2L1617.1,115.2L1620.6,110.6L1624.1,106.9L1628.4,103.1L1632.7,100.0L1641.4,95.1L1650.1,91.4L1658.8,88.4L1667.5,86.0L1676.2,83.8L1684.9,81.8L1697.9,80.2L1710.9,79.2L1728.3,77.6L1750.0,75.9L1771.7,74.5L1793.4,73.5L1815.2,72.6L1836.9,71.9L1858.6,71.3L1880.3,70.8L1902.0,70.4L1923.7,70.0L1945.4,69.7" fill="none" stroke="#00FE35" stroke-width="3.5" stroke-linejoin="round"/><path d="M1598.0,282.0L1607.1,291.1L1616.2,282.0L1607.1,272.9L1616.2,263.8L1607.1,254.7L1598.0,263.8L1588.9,254.7L1579.8,263.8L1588.9,272.9L1579.8,282.0L1588.9,291.1ZM1945.4,78.8L1954.5,87.9L1963.6,78.8L1954.5,69.7L1963.6,60.6L1954.5,51.5L1945.4,60.6L1936.4,51.5L1927.3,60.6L1936.4,69.7L1927.3,78.8L1936.4,87.9Z" fill="#00FE35"/><path d="M1598.0,269.9L1598.2,256.3L1598.4,244.4L1598.7,233.8L1598.9,224.3L1599.3,207.6L1599.7,192.5L1600.2,180.0L1600.6,170.7L1601.5,158.7L1602.3,150.5L1603.2,144.5L1604.1,139.7L1604.9,135.8L1606.7,129.6L1608.4,124.5L1611.0,118.2L1613.6,113.2L1617.1,107.5L1620.6,102.6L1624.1,98.4L1628.4,94.5L1632.7,91.5L1641.4,87.0L1650.1,83.5L1658.8,80.7L1667.5,78.3L1676.2,76.2L1684.9,74.7L1697.9,73.6L1710.9,72.8L1728.3,71.4L1750.0,69.7L1771.7,68.3L1793.4,67.3L1815.2,66.4L1836.9,65.6L1858.6,64.9L1880.3,64.2L1902.0,63.6L1923.7,63.0L1945.4,62.5L1945.4,68.5L1923.7,69.0L1902.0,69.6L1880.3,70.2L1858.6,70.9L1836.9,71.6L1815.2,72.4L1793.4,73.3L1771.7,74.3L1750.0,75.7L1728.3,77.4L1710.9,78.8L1697.9,79.6L1684.9,80.7L1676.2,82.2L1667.5,84.3L1658.8,86.7L1650.1,89.5L1641.4,93.0L1632.7,97.5L1628.4,100.5L1624.1,104.4L1620.6,108.6L1617.1,113.5L1613.6,119.2L1611.0,124.2L1608.4,130.5L1606.7,135.6L1604.9,141.8L1604.1,145.7L1603.2,150.5L1602.3,156.5L1601.5,164.7L1600.6,176.7L1600.2,186.0L1599.7,198.5L1599.3,213.6L1598.9,230.3L1598.7,239.8L1598.4,250.4L1598.2,262.3L1598.0,275.9Z" fill="rgba(106,118,252,0.25)" stroke="none"/><path d="M1598.0,272.9L1598.2,259.3L1598.4,247.4L1598.7,236.8L1598.9,227.3L1599.3,210.6L1599.7,195.5L1600.2,183.0L1600.6,173.7L1601.5,161.7L1602.3,153.5L1603.2,147.5L1604.1,142.7L1604.9,138.8L1606.7,132.6L1608.4,127.5L1611.0,121.2L1613.6,116.2L1617.1,110.5L1620.6,105.6L1624.1,101.4L1628.4,97.5L1632.7,94.5L1641.4,90.0L1650.1,86.5L1658.8,83.7L1667.5,81.3L1676.2,79.2L1684.9,77.7L1697.9,76.6L1710.9,75.8L1728.3,74.4L1750.0,72.7L1771.7,71.3L1793.4,70.3L1815.2,69.4L1836.9,68.6L1858.6,67.9L1880.3,67.2L1902.0,66.6L1923.7,66.0L1945.4,65.5" fill="none" stroke="#6A76FC" stroke-width="3.5" stroke-linejoin="round"/><path d="M1598.0,282.0L1607.1,291.1L1616.2,282.0L1607.1,272.9L1616.2,263.8L1607.1,254.7L1598.0,263.8L1588.9,254.7L1579.8,263.8L1588.9,272.9L1579.8,282.0L1588.9,291.1ZM1945.4,74.6L1954.5,83.7L1963.6,74.6L1954.5,65.5L1963.6,56.4L1954.5,47.3L1945.4,56.4L1936.4,47.3L1927.3,56.4L1936.4,65.5L1927.3,74.6L1936.4,83.7Z" fill="#6A76FC"/><path d="M1598.0,272.9L1598.2,252.5L1598.4,236.1L1598.7,223.8L1598.9,215.0L1599.3,203.9L1599.7,196.5L1600.2,190.5L1600.6,185.0L1601.5,174.7L1602.3,166.3L1603.2,160.0L1604.1,155.1L1604.9,151.0L1606.7,144.4L1608.4,139.2L1611.0,133.1L1613.6,128.1L1617.1,122.6L1620.6,118.2L1624.1,114.6L1628.4,110.9L1632.7,108.1L1641.4,103.4L1650.1,99.5L1658.8,96.0L1667.5,93.0L1676.2,90.2L1684.9,87.8L1697.9,84.8L1710.9,82.5L1728.3,80.0L1750.0,77.5L1771.7,75.5L1793.4,74.0L1815.2,72.7L1836.9,71.7L1858.6,70.8L1880.3,70.1L1902.0,69.5L1923.7,68.9L1945.4,68.5L1945.4,87.7L1923.7,87.7L1902.0,87.8L1880.3,88.8L1858.6,94.4L1836.9,95.8L1815.2,96.8L1793.4,97.6L1771.7,98.4L1750.0,99.4L1728.3,100.4L1710.9,101.6L1697.9,103.1L1684.9,105.8L1676.2,109.3L1667.5,113.2L1658.8,115.9L1650.1,118.4L1641.4,121.2L1632.7,124.7L1628.4,127.9L1624.1,132.8L1620.6,137.5L1617.1,143.5L1613.6,150.6L1611.0,156.7L1608.4,163.8L1606.7,169.5L1604.9,176.3L1604.1,180.3L1603.2,185.0L1602.3,190.3L1601.5,196.7L1600.6,205.0L1600.2,210.3L1599.7,216.7L1599.3,224.6L1598.9,235.0L1598.7,241.8L1598.4,250.2L1598.2,260.5L1598.0,272.9Z" fill="rgba(254,0,206,0.25)" stroke="none"/><path d="M1598.0,272.9L1598.2,256.5L1598.4,243.2L1598.7,232.8L1598.9,225.0L1599.3,214.4L1599.7,206.8L1600.2,200.9L1600.6,195.6L1601.5,186.4L1602.3,179.1L1603.2,173.2L1604.1,168.5L1604.9,164.6L1606.7,158.3L1608.4,153.0L1611.0,146.2L1613.6,140.4L1617.1,134.1L1620.6,129.0L1624.1,124.7L1628.4,120.3L1632.7,117.1L1641.4,112.8L1650.1,109.3L1658.8,105.8L1667.5,102.8L1676.2,100.2L1684.9,97.9L1697.9,94.0L1710.9,90.5L1728.3,87.5L1750.0,84.7L1771.7,82.6L1793.4,80.7L1815.2,79.1L1836.9,77.8L1858.6,77.0L1880.3,76.4L1902.0,76.0L1923.7,75.7L1945.4,75.5" fill="none" stroke="#FE00CE" stroke-width="3.5" stroke-linejoin="round"/><path d="M1598.0,282.0L1607.1,291.1L1616.2,282.0L1607.1,272.9L1616.2,263.8L1607.1,254.7L1598.0,263.8L1588.9,254.7L1579.8,263.8L1588.9,272.9L1579.8,282.0L1588.9,291.1ZM1945.4,84.6L1954.5,93.7L1963.6,84.6L1954.5,75.5L1963.6,66.4L1954.5,57.3L1945.4,66.4L1936.4,57.3L1927.3,66.4L1936.4,75.5L1927.3,84.6L1936.4,93.7Z" fill="#FE00CE"/></g>
<g clip-path="url(#cp10)"><path d="M80.1,640.0L80.3,628.1L80.5,618.3L80.8,611.9L81.0,609.0L81.4,607.5L81.8,606.7L82.3,606.2L82.7,605.8L83.6,605.1L84.4,604.1L85.3,602.9L86.2,601.5L87.0,600.1L88.8,597.6L90.5,595.4L93.1,592.7L95.7,590.6L99.2,588.3L102.7,586.3L106.2,584.5L110.5,582.5L114.8,580.8L123.5,577.9L132.2,575.5L140.9,573.5L149.6,571.8L158.3,570.3L167.0,569.0L180.0,567.4L193.0,566.1L210.4,564.6L232.1,563.0L253.8,561.8L275.5,560.9L297.2,560.1L319.0,559.4L340.7,558.8L362.4,558.2L384.1,557.7L405.8,557.2L427.5,556.7L427.5,587.9L405.8,589.4L384.1,591.0L362.4,592.5L340.7,594.0L319.0,595.4L297.2,596.8L275.5,598.3L253.8,600.0L232.1,602.1L210.4,604.5L193.0,606.8L180.0,609.1L167.0,612.0L158.3,614.7L149.6,618.4L140.9,622.9L132.2,628.0L123.5,634.0L114.8,641.3L110.5,645.6L106.2,650.0L102.7,653.7L99.2,657.7L95.7,662.2L93.1,666.0L90.5,670.6L88.8,674.2L87.0,678.3L86.2,680.5L85.3,682.7L84.4,685.0L83.6,687.4L82.7,690.0L82.3,691.5L81.8,693.1L81.4,694.7L81.0,696.5L80.8,697.4L80.5,698.3L80.3,699.2L80.1,700.0Z" fill="rgba(253,50,22,0.25)" stroke="none"/><path d="M80.1,663.8L80.3,661.1L80.5,658.9L80.8,656.9L81.0,655.2L81.4,652.3L81.8,650.0L82.3,648.2L82.7,646.7L83.6,644.2L84.4,642.0L85.3,640.0L86.2,638.2L87.0,636.6L88.8,633.8L90.5,631.3L93.1,628.0L95.7,625.1L99.2,621.5L102.7,618.5L106.2,616.0L110.5,613.3L114.8,611.0L123.5,607.2L132.2,604.0L140.9,601.3L149.6,599.0L158.3,597.0L167.0,595.0L180.0,592.0L193.0,589.3L210.4,586.9L232.1,585.1L253.8,583.6L275.5,582.1L297.2,580.7L319.0,579.5L340.7,578.2L362.4,577.0L384.1,575.8L405.8,574.6L427.5,573.5" fill="none" stroke="#FD3216" stroke-width="3.5" stroke-linejoin="round"/><path d="M80.1,672.9L89.2,682.0L98.3,672.9L89.2,663.8L98.3,654.7L89.2,645.6L80.1,654.7L71.0,645.6L61.9,654.7L71.0,663.8L61.9,672.9L71.0,682.0ZM427.5,582.6L436.6,591.7L445.7,582.6L436.6,573.5L445.7,564.4L436.6,555.3L427.5,564.4L418.5,555.3L409.4,564.4L418.5,573.5L409.4,582.6L418.5,591.7Z" fill="#FD3216"/><path d="M80.1,650.0L80.3,647.6L80.5,645.5L80.8,643.5L81.0,641.8L81.4,638.7L81.8,636.0L82.3,633.7L82.7,631.6L83.6,628.0L84.4,625.0L85.3,622.4L86.2,620.1L87.0,618.1L88.8,614.6L90.5,611.7L93.1,608.0L95.7,604.9L99.2,601.4L102.7,598.5L106.2,596.0L110.5,593.3L114.8,590.8L123.5,586.9L132.2,584.0L140.9,582.0L149.6,580.4L158.3,578.9L167.0,577.5L180.0,575.2L193.0,573.0L210.4,570.3L232.1,567.5L253.8,565.5L275.5,564.1L297.2,562.9L319.0,561.9L340.7,561.0L362.4,560.1L384.1,559.4L405.8,558.6L427.5,558.0L427.5,585.9L405.8,587.4L384.1,588.9L362.4,590.4L340.7,592.0L319.0,593.6L297.2,595.2L275.5,597.0L253.8,599.0L232.1,601.3L210.4,603.9L193.0,606.4L180.0,608.8L167.0,612.0L158.3,615.0L149.6,619.1L140.9,624.2L132.2,630.0L123.5,636.9L114.8,645.5L110.5,650.3L106.2,655.0L102.7,658.6L99.2,662.2L95.7,666.3L93.1,670.0L90.5,674.9L88.8,678.9L87.0,683.6L86.2,686.2L85.3,689.0L84.4,692.0L83.6,695.2L82.7,699.0L82.3,701.0L81.8,703.3L81.4,705.8L81.0,708.5L80.8,710.0L80.5,711.6L80.3,713.2L80.1,715.0Z" fill="rgba(0,254,53,0.25)" stroke="none"/><path d="M80.1,688.0L80.3,682.2L80.5,677.3L80.8,673.2L81.0,669.6L81.4,664.1L81.8,660.0L82.3,657.0L82.7,654.6L83.6,651.0L84.4,648.0L85.3,645.5L86.2,643.4L87.0,641.6L88.8,638.5L90.5,635.8L93.1,631.8L95.7,627.6L99.2,622.2L102.7,617.8L106.2,614.5L110.5,611.6L114.8,609.4L123.5,605.9L132.2,603.0L140.9,600.5L149.6,598.3L158.3,596.4L167.0,594.5L180.0,591.8L193.0,589.1L210.4,585.3L232.1,581.1L253.8,577.8L275.5,575.3L297.2,573.1L319.0,571.4L340.7,570.0L362.4,568.9L384.1,567.9L405.8,567.1L427.5,566.5" fill="none" stroke="#00FE35" stroke-width="3.5" stroke-linejoin="round"/><path d="M80.1,697.1L89.2,706.2L98.3,697.1L89.2,688.0L98.3,678.9L89.2,669.8L80.1,678.9L71.0,669.8L61.9,678.9L71.0,688.0L61.9,697.1L71.0,706.2ZM427.5,575.6L436.6,584.7L445.7,575.6L436.6,566.5L445.7,557.4L436.6,548.3L427.5,557.4L418.5,548.3L409.4,557.4L418.5,566.5L409.4,575.6L418.5,584.7Z" fill="#00FE35"/><path d="M80.1,660.0L80.3,656.8L80.5,654.0L80.8,651.5L81.0,649.3L81.4,645.5L81.8,642.3L82.3,639.6L82.7,637.2L83.6,633.2L84.4,630.0L85.3,627.4L86.2,625.2L87.0,623.3L88.8,620.1L90.5,617.5L93.1,614.0L95.7,610.9L99.2,607.3L102.7,604.4L106.2,602.0L110.5,599.6L114.8,597.6L123.5,594.4L132.2,592.0L140.9,590.2L149.6,588.8L158.3,587.5L167.0,586.0L180.0,583.1L193.0,579.8L210.4,575.4L232.1,571.0L253.8,568.0L275.5,566.0L297.2,564.4L319.0,563.1L340.7,562.0L362.4,561.1L384.1,560.3L405.8,559.6L427.5,559.0L427.5,590.9L405.8,592.7L384.1,594.5L362.4,596.3L340.7,598.0L319.0,599.5L297.2,600.9L275.5,602.4L253.8,604.2L232.1,606.4L210.4,609.1L193.0,611.7L180.0,614.1L167.0,617.0L158.3,619.4L149.6,622.4L140.9,625.9L132.2,630.0L123.5,634.8L114.8,640.8L110.5,644.3L106.2,648.0L102.7,651.2L99.2,654.7L95.7,658.7L93.1,662.0L90.5,665.8L88.8,668.7L87.0,672.0L86.2,673.9L85.3,675.9L84.4,678.0L83.6,680.4L82.7,683.1L82.3,684.6L81.8,686.3L81.4,688.1L81.0,690.2L80.8,691.3L80.5,692.4L80.3,693.7L80.1,695.0Z" fill="rgba(106,118,252,0.25)" stroke="none"/><path d="M80.1,670.9L80.3,667.0L80.5,663.7L80.8,660.9L81.0,658.5L81.4,654.7L81.8,652.0L82.3,650.0L82.7,648.5L83.6,646.2L84.4,644.0L85.3,641.9L86.2,639.9L87.0,638.1L88.8,634.9L90.5,632.2L93.1,628.6L95.7,625.5L99.2,621.9L102.7,618.9L106.2,616.3L110.5,613.6L114.8,611.2L123.5,607.4L132.2,604.5L140.9,602.3L149.6,600.5L158.3,599.2L167.0,598.0L180.0,596.0L193.0,590.1L210.4,584.5L232.1,582.0L253.8,580.2L275.5,578.6L297.2,577.4L319.0,576.2L340.7,575.1L362.4,574.0L384.1,572.9L405.8,571.9L427.5,571.0" fill="none" stroke="#6A76FC" stroke-width="3.5" stroke-linejoin="round"/><path d="M80.1,680.0L89.2,689.1L98.3,680.0L89.2,670.9L98.3,661.8L89.2,652.7L80.1,661.8L71.0,652.7L61.9,661.8L71.0,670.9L61.9,680.0L71.0,689.1ZM427.5,580.1L436.6,589.2L445.7,580.1L436.6,571.0L445.7,561.9L436.6,552.8L427.5,561.9L418.5,552.8L409.4,561.9L418.5,571.0L409.4,580.1L418.5,589.2Z" fill="#6A76FC"/><path d="M80.1,645.0L80.3,643.5L80.5,642.2L80.8,641.0L81.0,639.8L81.4,637.8L81.8,636.0L82.3,634.3L82.7,632.8L83.6,630.2L84.4,628.0L85.3,626.0L86.2,624.2L87.0,622.5L88.8,619.6L90.5,617.1L93.1,614.0L95.7,611.4L99.2,608.5L102.7,606.1L106.2,604.0L110.5,601.8L114.8,599.9L123.5,596.7L132.2,594.0L140.9,591.6L149.6,589.5L158.3,587.7L167.0,586.0L180.0,583.8L193.0,581.9L210.4,579.6L232.1,577.2L253.8,575.0L275.5,572.9L297.2,570.9L319.0,569.3L340.7,568.0L362.4,567.0L384.1,566.2L405.8,565.5L427.5,565.0L427.5,593.4L405.8,595.4L384.1,597.4L362.4,599.3L340.7,601.0L319.0,602.5L297.2,603.8L275.5,605.2L253.8,607.0L232.1,609.7L210.4,613.5L193.0,617.3L180.0,620.7L167.0,624.3L158.3,626.9L149.6,629.8L140.9,633.1L132.2,637.0L123.5,641.8L114.8,647.8L110.5,651.3L106.2,655.0L102.7,658.2L99.2,661.9L95.7,665.9L93.1,669.0L90.5,672.3L88.8,674.7L87.0,677.4L86.2,678.8L85.3,680.3L84.4,682.0L83.6,683.9L82.7,686.0L82.3,687.2L81.8,688.5L81.4,689.9L81.0,691.4L80.8,692.3L80.5,693.1L80.3,694.0L80.1,695.0Z" fill="rgba(254,0,206,0.25)" stroke="none"/><path d="M80.1,666.2L80.3,663.2L80.5,660.7L80.8,658.5L81.0,656.8L81.4,654.0L81.8,652.0L82.3,650.6L82.7,649.6L83.6,648.1L84.4,646.5L85.3,644.9L86.2,643.3L87.0,641.8L88.8,639.1L90.5,636.6L93.1,633.5L95.7,630.7L99.2,627.3L102.7,624.4L106.2,622.0L110.5,619.5L114.8,617.3L123.5,613.7L132.2,611.0L140.9,609.0L149.6,607.4L158.3,606.0L167.0,604.5L180.0,602.2L193.0,599.9L210.4,597.0L232.1,593.7L253.8,590.1L275.5,589.8L297.2,582.2L319.0,580.5L340.7,580.0L362.4,579.4L384.1,578.9L405.8,578.5L427.5,578.2" fill="none" stroke="#FE00CE" stroke-width="3.5" stroke-linejoin="round"/><path d="M80.1,675.3L89.2,684.4L98.3,675.3L89.2,666.2L98.3,657.1L89.2,648.0L80.1,657.1L71.0,648.0L61.9,657.1L71.0,666.2L61.9,675.3L71.0,684.4ZM427.5,587.3L436.6,596.4L445.7,587.3L436.6,578.2L445.7,569.1L436.6,560.0L427.5,569.1L418.5,560.0L409.4,569.1L418.5,578.2L409.4,587.3L418.5,596.4Z" fill="#FE00CE"/></g>
<g clip-path="url(#cp11)"><path d="M585.7,733.4L585.9,726.9L586.1,721.1L586.4,715.8L586.6,711.0L587.0,702.0L587.4,694.4L587.9,689.1L588.3,685.5L589.2,680.2L590.0,676.2L590.9,672.4L591.8,668.8L592.6,665.5L594.4,659.7L596.1,654.2L598.7,646.3L601.3,638.9L604.8,629.4L608.3,620.9L611.8,614.2L616.1,607.3L620.4,601.5L629.1,591.6L637.8,583.2L646.5,576.5L655.2,570.9L663.9,566.8L672.6,563.5L685.6,558.4L698.6,553.7L716.0,548.7L737.7,543.8L759.4,540.0L781.1,537.1L802.8,534.7L824.6,532.7L846.3,531.0L868.0,529.5L889.7,528.2L911.4,527.0L933.1,526.0L933.1,545.3L911.4,546.5L889.7,547.9L868.0,549.4L846.3,551.1L824.6,553.0L802.8,555.2L781.1,557.7L759.4,560.5L737.7,563.8L716.0,567.7L698.6,571.3L685.6,574.7L672.6,579.1L663.9,582.5L655.2,586.7L646.5,592.3L637.8,599.5L629.1,608.8L620.4,619.2L616.1,625.0L611.8,631.7L608.3,638.1L604.8,646.1L601.3,654.9L598.7,661.8L596.1,669.2L594.4,674.4L592.6,679.9L591.8,683.0L590.9,686.4L590.0,689.9L589.2,693.8L588.3,698.8L587.9,702.2L587.4,707.1L587.0,714.1L586.6,722.0L586.4,726.0L586.1,730.2L585.9,734.6L585.7,739.4Z" fill="rgba(253,50,22,0.25)" stroke="none"/><path d="M585.7,733.4L585.9,728.6L586.1,724.2L586.4,720.0L586.6,716.0L587.0,708.1L587.4,701.1L587.9,696.2L588.3,692.8L589.2,687.8L590.0,683.9L590.9,680.4L591.8,677.0L592.6,673.9L594.4,668.4L596.1,663.2L598.7,655.8L601.3,648.9L604.8,640.1L608.3,632.1L611.8,625.7L616.1,619.0L620.4,613.2L629.1,602.8L637.8,593.5L646.5,586.3L655.2,580.7L663.9,576.5L672.6,573.1L685.6,568.7L698.6,565.3L716.0,561.7L737.7,557.8L759.4,554.5L781.1,551.7L802.8,549.2L824.6,547.0L846.3,545.1L868.0,543.4L889.7,541.9L911.4,540.5L933.1,539.3" fill="none" stroke="#FD3216" stroke-width="3.5" stroke-linejoin="round"/><path d="M585.7,742.5L594.8,751.6L603.9,742.5L594.8,733.4L603.9,724.3L594.8,715.2L585.7,724.3L576.6,715.2L567.5,724.3L576.6,733.4L567.5,742.5L576.6,751.6ZM933.1,548.4L942.2,557.5L951.3,548.4L942.2,539.3L951.3,530.2L942.2,521.1L933.1,530.2L924.1,521.1L915.0,530.2L924.1,539.3L915.0,548.4L924.1,557.5Z" fill="#FD3216"/><path d="M585.7,733.4L585.9,726.8L586.1,721.2L586.4,716.3L586.6,712.0L587.0,704.7L587.4,698.8L587.9,694.2L588.3,690.4L589.2,684.6L590.0,679.9L590.9,675.9L591.8,672.3L592.6,669.1L594.4,663.9L596.1,659.1L598.7,651.5L601.3,643.2L604.8,635.0L608.3,629.1L611.8,624.0L616.1,618.6L620.4,613.8L629.1,605.2L637.8,597.6L646.5,591.8L655.2,587.2L663.9,583.3L672.6,579.6L685.6,574.3L698.6,569.6L716.0,564.8L737.7,560.6L759.4,557.0L781.1,553.4L802.8,550.2L824.6,547.3L846.3,545.0L868.0,543.1L889.7,541.5L911.4,540.1L933.1,539.0L933.1,552.9L911.4,554.4L889.7,556.0L868.0,557.9L846.3,560.0L824.6,562.6L802.8,565.7L781.1,569.3L759.4,572.9L737.7,576.3L716.0,580.0L698.6,583.8L685.6,587.1L672.6,591.0L663.9,594.0L655.2,597.5L646.5,601.7L637.8,607.0L629.1,614.0L620.4,623.4L616.1,629.5L611.8,636.4L608.3,642.4L604.8,648.9L601.3,657.1L598.7,664.8L596.1,671.9L594.4,676.4L592.6,681.3L591.8,684.3L590.9,687.7L590.0,691.3L589.2,695.6L588.3,700.9L587.9,704.2L587.4,708.5L587.0,713.9L586.6,720.0L586.4,723.1L586.1,726.3L585.9,729.8L585.7,733.4Z" fill="rgba(0,254,53,0.25)" stroke="none"/><path d="M585.7,733.4L585.9,728.3L586.1,723.8L586.4,719.7L586.6,716.0L587.0,709.3L587.4,703.6L587.9,699.2L588.3,695.7L589.2,690.0L590.0,685.6L590.9,681.8L591.8,678.3L592.6,675.3L594.4,670.2L596.1,665.5L598.7,658.3L601.3,650.4L604.8,642.1L608.3,635.8L611.8,630.2L616.1,624.1L620.4,618.8L629.1,610.3L637.8,603.8L646.5,598.3L655.2,593.4L663.9,589.8L672.6,586.9L685.6,582.6L698.6,578.0L716.0,572.6L737.7,567.4L759.4,563.2L781.1,559.7L802.8,556.6L824.6,554.0L846.3,551.7L868.0,549.7L889.7,548.0L911.4,546.4L933.1,545.0" fill="none" stroke="#00FE35" stroke-width="3.5" stroke-linejoin="round"/><path d="M585.7,742.5L594.8,751.6L603.9,742.5L594.8,733.4L603.9,724.3L594.8,715.2L585.7,724.3L576.6,715.2L567.5,724.3L576.6,733.4L567.5,742.5L576.6,751.6ZM933.1,554.2L942.2,563.3L951.3,554.2L942.2,545.1L951.3,536.0L942.2,526.9L933.1,536.0L924.1,526.9L915.0,536.0L924.1,545.1L915.0,554.2L924.1,563.3Z" fill="#00FE35"/><path d="M585.7,733.4L585.9,727.0L586.1,721.2L586.4,715.9L586.6,711.0L587.0,701.6L587.4,693.6L587.9,688.1L588.3,684.4L589.2,679.2L590.0,675.1L590.9,671.4L591.8,667.8L592.6,664.5L594.4,658.7L596.1,653.2L598.7,645.3L601.3,637.9L604.8,628.5L608.3,620.0L611.8,613.3L616.1,606.5L620.4,600.8L629.1,590.9L637.8,582.6L646.5,575.7L655.2,570.0L663.9,566.2L672.6,563.3L685.6,558.1L698.6,553.2L716.0,548.2L737.7,544.0L759.4,540.7L781.1,537.8L802.8,535.4L824.6,533.3L846.3,531.5L868.0,530.0L889.7,528.6L911.4,527.5L933.1,526.5L933.1,540.5L911.4,541.6L889.7,542.8L868.0,544.2L846.3,545.8L824.6,547.7L802.8,549.9L781.1,552.4L759.4,555.4L737.7,559.0L716.0,563.4L698.6,567.5L685.6,571.3L672.6,575.8L663.9,579.2L655.2,583.4L646.5,589.0L637.8,596.0L629.1,604.9L620.4,614.8L616.1,620.3L611.8,626.7L608.3,633.4L604.8,642.4L601.3,652.2L598.7,659.3L596.1,666.8L594.4,672.1L592.6,677.8L591.8,680.9L590.9,684.4L590.0,687.8L589.2,691.4L588.3,696.1L587.9,699.5L587.4,704.6L587.0,712.3L586.6,721.0L586.4,725.2L586.1,729.7L585.9,734.4L585.7,739.4Z" fill="rgba(106,118,252,0.25)" stroke="none"/><path d="M585.7,733.4L585.9,728.4L586.1,723.7L586.4,719.2L586.6,715.0L587.0,706.3L587.4,698.6L587.9,693.5L588.3,690.1L589.2,685.4L590.0,681.8L590.9,678.4L591.8,674.9L592.6,671.8L594.4,666.1L596.1,660.8L598.7,653.3L601.3,646.2L604.8,636.4L608.3,627.4L611.8,620.7L616.1,614.3L620.4,608.8L629.1,598.9L637.8,590.0L646.5,583.0L655.2,577.4L663.9,573.2L672.6,569.8L685.6,565.3L698.6,561.5L716.0,557.4L737.7,553.0L759.4,549.4L781.1,546.4L802.8,543.9L824.6,541.7L846.3,539.8L868.0,538.2L889.7,536.8L911.4,535.6L933.1,534.5" fill="none" stroke="#6A76FC" stroke-width="3.5" stroke-linejoin="round"/><path d="M585.7,742.5L594.8,751.6L603.9,742.5L594.8,733.4L603.9,724.3L594.8,715.2L585.7,724.3L576.6,715.2L567.5,724.3L576.6,733.4L567.5,742.5L576.6,751.6ZM933.1,543.6L942.2,552.7L951.3,543.6L942.2,534.5L951.3,525.4L942.2,516.3L933.1,525.4L924.1,516.3L915.0,525.4L924.1,534.5L915.0,543.6L924.1,552.7Z" fill="#6A76FC"/><path d="M585.7,733.4L585.9,726.5L586.1,720.6L586.4,715.7L586.6,711.5L587.0,705.0L587.4,700.3L587.9,696.7L588.3,693.7L589.2,688.5L590.0,683.8L590.9,679.9L591.8,676.3L592.6,673.1L594.4,667.1L596.1,661.7L598.7,654.4L601.3,647.3L604.8,638.4L608.3,631.2L611.8,626.1L616.1,621.3L620.4,617.4L629.1,610.7L637.8,605.3L646.5,601.3L655.2,598.2L663.9,595.4L672.6,593.0L685.6,589.7L698.6,586.7L716.0,581.9L737.7,576.7L759.4,574.0L781.1,571.0L802.8,568.2L824.6,565.8L846.3,564.0L868.0,562.7L889.7,561.6L911.4,560.7L933.1,560.0L933.1,579.0L911.4,579.8L889.7,580.8L868.0,582.0L846.3,583.6L824.6,585.8L802.8,588.7L781.1,592.1L759.4,595.3L737.7,597.8L716.0,600.3L698.6,603.2L685.6,605.9L672.6,609.0L663.9,612.0L655.2,615.2L646.5,618.5L637.8,623.4L629.1,630.8L620.4,637.8L616.1,641.3L611.8,645.4L608.3,650.1L604.8,657.3L601.3,666.4L598.7,673.3L596.1,680.4L594.4,685.4L592.6,690.7L591.8,693.4L590.9,696.3L590.0,699.5L589.2,703.2L588.3,707.4L587.9,709.8L587.4,712.6L587.0,716.0L586.6,720.4L586.4,723.0L586.1,726.0L585.9,729.4L585.7,733.4Z" fill="rgba(254,0,206,0.25)" stroke="none"/><path d="M585.7,733.4L585.9,728.0L586.1,723.4L586.4,719.4L586.6,716.1L587.0,710.6L587.4,706.5L587.9,703.2L588.3,700.5L589.2,695.7L590.0,691.3L590.9,687.5L591.8,684.1L592.6,681.0L594.4,675.2L596.1,670.0L598.7,663.0L601.3,656.0L604.8,647.1L608.3,639.9L611.8,634.7L616.1,629.7L620.4,625.6L629.1,619.0L637.8,613.7L646.5,609.5L655.2,606.0L663.9,603.6L672.6,601.6L685.6,598.6L698.6,595.6L716.0,590.7L737.7,585.5L759.4,583.1L781.1,580.2L802.8,577.3L824.6,574.7L846.3,572.6L868.0,570.9L889.7,569.3L911.4,568.0L933.1,566.9" fill="none" stroke="#FE00CE" stroke-width="3.5" stroke-linejoin="round"/><path d="M585.7,742.5L594.8,751.6L603.9,742.5L594.8,733.4L603.9,724.3L594.8,715.2L585.7,724.3L576.6,715.2L567.5,724.3L576.6,733.4L567.5,742.5L576.6,751.6ZM933.1,576.0L942.2,585.1L951.3,576.0L942.2,566.9L951.3,557.8L942.2,548.7L933.1,557.8L924.1,548.7L915.0,557.8L924.1,566.9L915.0,576.0L924.1,585.1Z" fill="#FE00CE"/></g>
<g clip-path="url(#cp12)"><path d="M1092.7,715.0L1092.9,705.1L1093.1,696.7L1093.4,689.5L1093.6,683.2L1094.0,673.2L1094.4,665.7L1094.9,660.0L1095.3,655.7L1096.2,649.4L1097.0,644.8L1097.9,640.9L1098.8,637.4L1099.6,634.0L1101.4,627.8L1103.1,622.5L1105.7,616.0L1108.3,610.5L1111.8,604.5L1115.3,599.8L1118.8,596.1L1123.1,592.2L1127.4,588.9L1136.1,583.0L1144.8,577.5L1153.5,572.9L1162.2,569.0L1170.9,565.7L1179.6,562.8L1192.6,559.4L1205.6,556.5L1223.0,553.3L1244.7,549.9L1266.4,547.1L1288.1,544.7L1309.9,542.5L1331.6,540.7L1353.3,539.2L1375.0,537.9L1396.7,536.8L1418.4,535.8L1440.1,535.0L1440.1,556.0L1418.4,556.6L1396.7,557.4L1375.0,558.4L1353.3,559.5L1331.6,560.8L1309.9,562.5L1288.1,564.5L1266.4,567.0L1244.7,570.7L1223.0,575.6L1205.6,579.5L1192.6,582.2L1179.6,585.0L1170.9,586.9L1162.2,589.6L1153.5,593.6L1144.8,598.7L1136.1,604.5L1127.4,611.9L1123.1,616.4L1118.8,621.7L1115.3,626.7L1111.8,632.6L1108.3,639.8L1105.7,646.1L1103.1,653.9L1101.4,660.1L1099.6,666.9L1098.8,670.5L1097.9,674.1L1097.0,677.8L1096.2,682.2L1095.3,688.0L1094.9,692.0L1094.4,697.2L1094.0,703.9L1093.6,712.7L1093.4,718.1L1093.1,724.3L1092.9,731.5L1092.7,740.0Z" fill="rgba(253,50,22,0.25)" stroke="none"/><path d="M1092.7,727.6L1092.9,721.2L1093.1,715.1L1093.4,709.4L1093.6,704.0L1094.0,692.8L1094.4,682.8L1094.9,676.0L1095.3,671.8L1096.2,666.1L1097.0,662.1L1097.9,658.6L1098.8,655.4L1099.6,652.0L1101.4,645.4L1103.1,639.6L1105.7,632.1L1108.3,625.8L1111.8,618.6L1115.3,612.7L1118.8,607.9L1123.1,602.8L1127.4,598.4L1136.1,591.3L1144.8,585.7L1153.5,581.3L1162.2,577.7L1170.9,574.6L1179.6,572.0L1192.6,568.6L1205.6,565.6L1223.0,561.7L1244.7,557.3L1266.4,554.0L1288.1,551.7L1309.9,549.9L1331.6,548.3L1353.3,547.0L1375.0,545.8L1396.7,544.7L1418.4,543.8L1440.1,543.0" fill="none" stroke="#FD3216" stroke-width="3.5" stroke-linejoin="round"/><path d="M1092.7,736.7L1101.8,745.8L1110.9,736.7L1101.8,727.6L1110.9,718.5L1101.8,709.4L1092.7,718.5L1083.6,709.4L1074.5,718.5L1083.6,727.6L1074.5,736.7L1083.6,745.8ZM1440.1,553.6L1449.2,562.7L1458.3,553.6L1449.2,544.5L1458.3,535.4L1449.2,526.3L1440.1,535.4L1431.1,526.3L1422.0,535.4L1431.1,544.5L1422.0,553.6L1431.1,562.7Z" fill="#FD3216"/><path d="M1092.7,720.6L1092.9,712.6L1093.1,705.5L1093.4,699.0L1093.6,693.0L1094.0,681.4L1094.4,671.6L1094.9,665.0L1095.3,661.0L1096.2,655.4L1097.0,651.6L1097.9,648.4L1098.8,645.3L1099.6,642.0L1101.4,635.8L1103.1,630.2L1105.7,623.1L1108.3,617.1L1111.8,610.2L1115.3,604.8L1118.8,600.4L1123.1,595.9L1127.4,592.1L1136.1,585.9L1144.8,581.3L1153.5,577.8L1162.2,574.9L1170.9,572.3L1179.6,570.0L1192.6,566.7L1205.6,563.6L1223.0,559.1L1244.7,553.5L1266.4,549.4L1288.1,546.7L1309.9,544.6L1331.6,542.9L1353.3,541.5L1375.0,540.3L1396.7,539.2L1418.4,538.3L1440.1,537.5L1440.1,551.5L1418.4,552.3L1396.7,553.2L1375.0,554.3L1353.3,555.5L1331.6,556.9L1309.9,558.6L1288.1,560.7L1266.4,563.4L1244.7,567.5L1223.0,573.1L1205.6,577.6L1192.6,580.7L1179.6,584.0L1170.9,586.3L1162.2,588.9L1153.5,591.8L1144.8,595.3L1136.1,599.9L1127.4,606.1L1123.1,609.9L1118.8,614.4L1115.3,618.8L1111.8,624.2L1108.3,631.1L1105.7,637.1L1103.1,644.2L1101.4,649.8L1099.6,656.0L1098.8,659.3L1097.9,662.4L1097.0,665.6L1096.2,669.4L1095.3,675.0L1094.9,679.0L1094.4,685.6L1094.0,695.4L1093.6,707.0L1093.4,713.0L1093.1,719.5L1092.9,726.6L1092.7,734.6Z" fill="rgba(0,254,53,0.25)" stroke="none"/><path d="M1092.7,727.6L1092.9,719.6L1093.1,712.5L1093.4,706.0L1093.6,700.0L1094.0,688.4L1094.4,678.6L1094.9,672.0L1095.3,668.0L1096.2,662.4L1097.0,658.6L1097.9,655.4L1098.8,652.3L1099.6,649.0L1101.4,642.8L1103.1,637.2L1105.7,630.1L1108.3,624.1L1111.8,617.2L1115.3,611.8L1118.8,607.4L1123.1,602.9L1127.4,599.1L1136.1,592.9L1144.8,588.3L1153.5,584.8L1162.2,581.9L1170.9,579.3L1179.6,577.0L1192.6,573.7L1205.6,570.6L1223.0,566.1L1244.7,560.5L1266.4,556.4L1288.1,553.7L1309.9,551.6L1331.6,549.9L1353.3,548.5L1375.0,547.3L1396.7,546.2L1418.4,545.3L1440.1,544.5" fill="none" stroke="#00FE35" stroke-width="3.5" stroke-linejoin="round"/><path d="M1092.7,736.7L1101.8,745.8L1110.9,736.7L1101.8,727.6L1110.9,718.5L1101.8,709.4L1092.7,718.5L1083.6,709.4L1074.5,718.5L1083.6,727.6L1074.5,736.7L1083.6,745.8ZM1440.1,551.6L1449.2,560.7L1458.3,551.6L1449.2,542.5L1458.3,533.4L1449.2,524.3L1440.1,533.4L1431.1,524.3L1422.0,533.4L1431.1,542.5L1422.0,551.6L1431.1,560.7Z" fill="#00FE35"/><path d="M1092.7,715.0L1092.9,707.2L1093.1,700.6L1093.4,694.8L1093.6,689.8L1094.0,681.6L1094.4,675.1L1094.9,670.0L1095.3,666.0L1096.2,659.9L1097.0,655.3L1097.9,651.3L1098.8,647.6L1099.6,643.9L1101.4,636.9L1103.1,630.8L1105.7,623.1L1108.3,617.0L1111.8,610.3L1115.3,604.7L1118.8,600.0L1123.1,595.1L1127.4,591.0L1136.1,584.8L1144.8,579.7L1153.5,575.2L1162.2,571.3L1170.9,567.9L1179.6,565.0L1192.6,561.3L1205.6,558.1L1223.0,554.5L1244.7,550.9L1266.4,548.0L1288.1,545.6L1309.9,543.7L1331.6,542.0L1353.3,540.5L1375.0,539.2L1396.7,538.0L1418.4,536.9L1440.1,536.0L1440.1,554.9L1418.4,556.1L1396.7,557.5L1375.0,559.0L1353.3,560.6L1331.6,562.4L1309.9,564.3L1288.1,566.5L1266.4,569.2L1244.7,572.9L1223.0,577.7L1205.6,581.5L1192.6,584.3L1179.6,587.0L1170.9,588.6L1162.2,590.3L1153.5,592.7L1144.8,596.7L1136.1,601.7L1127.4,608.0L1123.1,612.1L1118.8,616.9L1115.3,621.7L1111.8,627.8L1108.3,635.5L1105.7,642.1L1103.1,649.7L1101.4,655.5L1099.6,662.0L1098.8,665.4L1097.9,668.7L1097.0,672.2L1096.2,676.4L1095.3,682.0L1094.9,686.0L1094.4,691.4L1094.0,698.7L1093.6,708.5L1093.4,714.7L1093.1,721.8L1092.9,730.2L1092.7,740.0Z" fill="rgba(106,118,252,0.25)" stroke="none"/><path d="M1092.7,727.6L1092.9,721.6L1093.1,715.8L1093.4,710.3L1093.6,705.0L1094.0,693.8L1094.4,683.8L1094.9,677.0L1095.3,672.9L1096.2,667.3L1097.0,663.5L1097.9,660.2L1098.8,656.9L1099.6,653.6L1101.4,647.0L1103.1,641.0L1105.7,633.3L1108.3,627.0L1111.8,619.8L1115.3,613.9L1118.8,609.1L1123.1,604.1L1127.4,599.7L1136.1,592.6L1144.8,587.0L1153.5,582.7L1162.2,579.1L1170.9,576.1L1179.6,573.5L1192.6,569.9L1205.6,566.6L1223.0,562.6L1244.7,558.4L1266.4,554.9L1288.1,552.6L1309.9,550.9L1331.6,549.6L1353.3,548.5L1375.0,547.4L1396.7,546.4L1418.4,545.4L1440.1,544.5" fill="none" stroke="#6A76FC" stroke-width="3.5" stroke-linejoin="round"/><path d="M1092.7,736.7L1101.8,745.8L1110.9,736.7L1101.8,727.6L1110.9,718.5L1101.8,709.4L1092.7,718.5L1083.6,709.4L1074.5,718.5L1083.6,727.6L1074.5,736.7L1083.6,745.8ZM1440.1,553.6L1449.2,562.7L1458.3,553.6L1449.2,544.5L1458.3,535.4L1449.2,526.3L1440.1,535.4L1431.1,526.3L1422.0,535.4L1431.1,544.5L1422.0,553.6L1431.1,562.7Z" fill="#6A76FC"/><path d="M1092.7,727.6L1092.9,723.6L1093.1,720.1L1093.4,717.0L1093.6,714.2L1094.0,709.4L1094.4,705.4L1094.9,702.0L1095.3,699.1L1096.2,694.3L1097.0,690.4L1097.9,687.1L1098.8,684.1L1099.6,681.5L1101.4,676.7L1103.1,672.8L1105.7,667.7L1108.3,663.1L1111.8,657.5L1115.3,652.5L1118.8,648.5L1123.1,644.3L1127.4,640.8L1136.1,635.1L1144.8,630.8L1153.5,627.7L1162.2,625.5L1170.9,624.1L1179.6,622.7L1192.6,619.3L1205.6,615.6L1223.0,611.6L1244.7,607.2L1266.4,603.4L1288.1,600.1L1309.9,597.1L1331.6,594.6L1353.3,592.7L1375.0,591.3L1396.7,590.1L1418.4,589.1L1440.1,588.4L1440.1,605.5L1418.4,606.1L1396.7,606.9L1375.0,607.9L1353.3,609.1L1331.6,610.7L1309.9,612.9L1288.1,615.5L1266.4,618.4L1244.7,621.5L1223.0,625.1L1205.6,628.6L1192.6,631.9L1179.6,635.5L1170.9,637.6L1162.2,640.0L1153.5,643.5L1144.8,647.7L1136.1,651.7L1127.4,656.8L1123.1,660.2L1118.8,664.4L1115.3,668.7L1111.8,674.1L1108.3,680.1L1105.7,684.8L1103.1,690.0L1101.4,693.9L1099.6,698.3L1098.8,700.9L1097.9,703.8L1097.0,706.9L1096.2,710.4L1095.3,714.1L1094.9,716.0L1094.4,718.0L1094.0,720.2L1093.6,722.5L1093.4,723.7L1093.1,725.0L1092.9,726.3L1092.7,727.6Z" fill="rgba(254,0,206,0.25)" stroke="none"/><path d="M1092.7,727.6L1092.9,725.6L1093.1,723.6L1093.4,721.8L1093.6,720.0L1094.0,716.6L1094.4,713.5L1094.9,710.7L1095.3,708.2L1096.2,703.7L1097.0,699.8L1097.9,696.4L1098.8,693.4L1099.6,690.6L1101.4,686.0L1103.1,682.1L1105.7,677.1L1108.3,672.6L1111.8,666.9L1115.3,661.8L1118.8,657.4L1123.1,652.7L1127.4,648.8L1136.1,643.0L1144.8,638.7L1153.5,635.3L1162.2,632.5L1170.9,630.4L1179.6,628.4L1192.6,624.8L1205.6,621.5L1223.0,618.4L1244.7,613.8L1266.4,609.8L1288.1,607.0L1309.9,604.8L1331.6,603.0L1353.3,601.3L1375.0,599.6L1396.7,597.9L1418.4,596.2L1440.1,594.6" fill="none" stroke="#FE00CE" stroke-width="3.5" stroke-linejoin="round"/><path d="M1092.7,736.7L1101.8,745.8L1110.9,736.7L1101.8,727.6L1110.9,718.5L1101.8,709.4L1092.7,718.5L1083.6,709.4L1074.5,718.5L1083.6,727.6L1074.5,736.7L1083.6,745.8ZM1440.1,603.8L1449.2,612.9L1458.3,603.8L1449.2,594.7L1458.3,585.6L1449.2,576.5L1440.1,585.6L1431.1,576.5L1422.0,585.6L1431.1,594.7L1422.0,603.8L1431.1,612.9Z" fill="#FE00CE"/></g>
<g clip-path="url(#cp13)"><path d="M1598.0,700.0L1598.2,692.7L1598.4,686.8L1598.7,682.5L1598.9,680.0L1599.3,677.3L1599.7,675.5L1600.2,674.2L1600.6,673.3L1601.5,671.8L1602.3,670.7L1603.2,670.0L1604.1,669.4L1604.9,668.9L1606.7,668.1L1608.4,667.3L1611.0,666.2L1613.6,664.9L1617.1,663.0L1620.6,660.9L1624.1,659.0L1628.4,656.6L1632.7,654.4L1641.4,650.6L1650.1,647.7L1658.8,645.1L1667.5,642.7L1676.2,640.2L1684.9,637.8L1697.9,634.6L1710.9,632.0L1728.3,629.0L1750.0,625.8L1771.7,623.3L1793.4,621.2L1815.2,619.5L1836.9,618.0L1858.6,616.7L1880.3,615.6L1902.0,614.6L1923.7,613.7L1945.4,613.0L1945.4,630.8L1923.7,631.9L1902.0,633.2L1880.3,634.6L1858.6,636.2L1836.9,638.0L1815.2,640.0L1793.4,642.3L1771.7,644.6L1750.0,646.9L1728.3,649.3L1710.9,651.7L1697.9,654.1L1684.9,656.9L1676.2,658.9L1667.5,661.1L1658.8,663.6L1650.1,666.6L1641.4,670.5L1632.7,675.7L1628.4,678.8L1624.1,682.1L1620.6,684.8L1617.1,687.8L1613.6,691.2L1611.0,694.3L1608.4,698.1L1606.7,701.0L1604.9,704.0L1604.1,705.6L1603.2,707.2L1602.3,708.9L1601.5,710.8L1600.6,713.0L1600.2,714.2L1599.7,715.6L1599.3,717.1L1598.9,718.8L1598.7,719.8L1598.4,720.8L1598.2,721.8L1598.0,723.0Z" fill="rgba(253,50,22,0.25)" stroke="none"/><path d="M1598.0,713.0L1598.2,711.8L1598.4,710.8L1598.7,709.8L1598.9,708.8L1599.3,707.1L1599.7,705.6L1600.2,704.2L1600.6,703.0L1601.5,700.8L1602.3,698.9L1603.2,697.2L1604.1,695.6L1604.9,694.0L1606.7,691.0L1608.4,688.1L1611.0,684.3L1613.6,681.2L1617.1,677.8L1620.6,674.8L1624.1,672.1L1628.4,668.8L1632.7,665.7L1641.4,660.5L1650.1,656.6L1658.8,653.6L1667.5,651.1L1676.2,648.9L1684.9,646.9L1697.9,644.1L1710.9,641.7L1728.3,639.3L1750.0,636.9L1771.7,634.6L1793.4,632.3L1815.2,630.0L1836.9,628.0L1858.6,626.2L1880.3,624.6L1902.0,623.2L1923.7,621.9L1945.4,620.8" fill="none" stroke="#FD3216" stroke-width="3.5" stroke-linejoin="round"/><path d="M1598.0,722.1L1607.1,731.2L1616.2,722.1L1607.1,713.0L1616.2,703.9L1607.1,694.8L1598.0,703.9L1588.9,694.8L1579.8,703.9L1588.9,713.0L1579.8,722.1L1588.9,731.2ZM1945.4,629.9L1954.5,639.0L1963.6,629.9L1954.5,620.8L1963.6,611.7L1954.5,602.6L1945.4,611.7L1936.4,602.6L1927.3,611.7L1936.4,620.8L1927.3,629.9L1936.4,639.0Z" fill="#FD3216"/><path d="M1598.0,709.0L1598.2,707.8L1598.4,706.6L1598.7,705.6L1598.9,704.7L1599.3,703.0L1599.7,701.5L1600.2,700.2L1600.6,699.0L1601.5,697.0L1602.3,695.3L1603.2,693.8L1604.1,692.4L1604.9,691.0L1606.7,688.3L1608.4,685.7L1611.0,682.3L1613.6,679.2L1617.1,675.5L1620.6,672.2L1624.1,669.3L1628.4,666.0L1632.7,663.0L1641.4,658.1L1650.1,654.1L1658.8,650.8L1667.5,648.2L1676.2,646.2L1684.9,644.6L1697.9,642.3L1710.9,640.0L1728.3,636.1L1750.0,631.1L1771.7,627.5L1793.4,625.3L1815.2,623.7L1836.9,622.3L1858.6,620.9L1880.3,619.5L1902.0,618.3L1923.7,617.1L1945.4,616.0L1945.4,638.0L1923.7,639.1L1902.0,640.3L1880.3,641.6L1858.6,643.0L1836.9,644.5L1815.2,646.0L1793.4,647.8L1771.7,650.0L1750.0,652.9L1728.3,656.7L1710.9,660.2L1697.9,663.0L1684.9,666.1L1676.2,668.4L1667.5,671.2L1658.8,674.5L1650.1,678.3L1641.4,683.2L1632.7,690.2L1628.4,694.9L1624.1,700.0L1620.6,704.0L1617.1,708.2L1613.6,713.2L1611.0,718.0L1608.4,724.6L1606.7,730.1L1604.9,736.4L1604.1,739.6L1603.2,742.7L1602.3,745.4L1601.5,747.0L1600.6,747.8L1600.2,748.3L1599.7,748.7L1599.3,749.1L1598.9,749.5L1598.7,749.7L1598.4,749.9L1598.2,750.0L1598.0,750.0Z" fill="rgba(0,254,53,0.25)" stroke="none"/><path d="M1598.0,719.0L1598.2,717.8L1598.4,716.6L1598.7,715.6L1598.9,714.7L1599.3,713.0L1599.7,711.5L1600.2,710.2L1600.6,709.0L1601.5,707.0L1602.3,705.3L1603.2,703.8L1604.1,702.4L1604.9,701.0L1606.7,698.3L1608.4,695.7L1611.0,692.3L1613.6,689.2L1617.1,685.5L1620.6,682.2L1624.1,679.3L1628.4,676.0L1632.7,673.0L1641.4,668.1L1650.1,664.1L1658.8,660.8L1667.5,658.2L1676.2,656.2L1684.9,654.6L1697.9,652.3L1710.9,650.0L1728.3,646.1L1750.0,641.1L1771.7,637.5L1793.4,635.3L1815.2,633.7L1836.9,632.3L1858.6,630.9L1880.3,629.5L1902.0,628.3L1923.7,627.1L1945.4,626.0" fill="none" stroke="#00FE35" stroke-width="3.5" stroke-linejoin="round"/><path d="M1598.0,728.1L1607.1,737.2L1616.2,728.1L1607.1,719.0L1616.2,709.9L1607.1,700.8L1598.0,709.9L1588.9,700.8L1579.8,709.9L1588.9,719.0L1579.8,728.1L1588.9,737.2ZM1945.4,635.1L1954.5,644.2L1963.6,635.1L1954.5,626.0L1963.6,616.9L1954.5,607.8L1945.4,616.9L1936.4,607.8L1927.3,616.9L1936.4,626.0L1927.3,635.1L1936.4,644.2Z" fill="#00FE35"/><path d="M1598.0,700.0L1598.2,698.7L1598.4,697.5L1598.7,696.4L1598.9,695.5L1599.3,693.8L1599.7,692.4L1600.2,691.1L1600.6,690.0L1601.5,688.2L1602.3,686.8L1603.2,685.5L1604.1,684.3L1604.9,683.0L1606.7,680.3L1608.4,677.7L1611.0,674.1L1613.6,671.3L1617.1,668.3L1620.6,665.7L1624.1,663.2L1628.4,660.3L1632.7,657.6L1641.4,653.0L1650.1,649.1L1658.8,645.9L1667.5,643.4L1676.2,641.5L1684.9,639.9L1697.9,637.9L1710.9,636.1L1728.3,634.1L1750.0,631.9L1771.7,630.0L1793.4,628.3L1815.2,626.8L1836.9,625.4L1858.6,624.0L1880.3,622.7L1902.0,621.4L1923.7,620.1L1945.4,619.0L1945.4,639.4L1923.7,640.9L1902.0,642.5L1880.3,644.0L1858.6,645.6L1836.9,647.2L1815.2,648.9L1793.4,650.6L1771.7,652.2L1750.0,653.7L1728.3,655.1L1710.9,656.6L1697.9,658.2L1684.9,660.3L1676.2,662.2L1667.5,664.8L1658.8,667.5L1650.1,670.7L1641.4,674.7L1632.7,680.1L1628.4,683.5L1624.1,687.0L1620.6,689.7L1617.1,692.5L1613.6,695.7L1611.0,698.9L1608.4,703.0L1606.7,706.1L1604.9,709.0L1604.1,710.3L1603.2,711.6L1602.3,712.9L1601.5,714.3L1600.6,716.0L1600.2,717.0L1599.7,718.1L1599.3,719.3L1598.9,720.6L1598.7,721.4L1598.4,722.2L1598.2,723.1L1598.0,724.0Z" fill="rgba(106,118,252,0.25)" stroke="none"/><path d="M1598.0,714.0L1598.2,713.1L1598.4,712.2L1598.7,711.4L1598.9,710.6L1599.3,709.3L1599.7,708.1L1600.2,707.0L1600.6,706.0L1601.5,704.3L1602.3,702.9L1603.2,701.6L1604.1,700.3L1604.9,699.0L1606.7,696.1L1608.4,693.0L1611.0,688.9L1613.6,685.7L1617.1,682.5L1620.6,679.7L1624.1,677.0L1628.4,673.5L1632.7,670.1L1641.4,664.7L1650.1,660.7L1658.8,657.5L1667.5,654.8L1676.2,652.2L1684.9,650.3L1697.9,648.2L1710.9,646.6L1728.3,645.1L1750.0,643.7L1771.7,642.2L1793.4,640.6L1815.2,638.9L1836.9,637.2L1858.6,635.6L1880.3,634.0L1902.0,632.5L1923.7,630.9L1945.4,629.4" fill="none" stroke="#6A76FC" stroke-width="3.5" stroke-linejoin="round"/><path d="M1598.0,723.1L1607.1,732.2L1616.2,723.1L1607.1,714.0L1616.2,704.9L1607.1,695.8L1598.0,704.9L1588.9,695.8L1579.8,704.9L1588.9,714.0L1579.8,723.1L1588.9,732.2ZM1945.4,638.6L1954.5,647.7L1963.6,638.6L1954.5,629.5L1963.6,620.4L1954.5,611.3L1945.4,620.4L1936.4,611.3L1927.3,620.4L1936.4,629.5L1927.3,638.6L1936.4,647.7Z" fill="#6A76FC"/><path d="M1598.0,705.0L1598.2,703.7L1598.4,702.5L1598.7,701.4L1598.9,700.5L1599.3,698.8L1599.7,697.4L1600.2,696.1L1600.6,695.0L1601.5,693.2L1602.3,691.7L1603.2,690.4L1604.1,689.2L1604.9,688.0L1606.7,685.7L1608.4,683.7L1611.0,680.8L1613.6,678.4L1617.1,675.5L1620.6,672.8L1624.1,670.2L1628.4,667.1L1632.7,663.9L1641.4,658.8L1650.1,654.5L1658.8,651.1L1667.5,648.4L1676.2,646.2L1684.9,644.4L1697.9,642.1L1710.9,640.1L1728.3,637.8L1750.0,635.2L1771.7,633.0L1793.4,631.0L1815.2,629.2L1836.9,627.5L1858.6,626.0L1880.3,624.6L1902.0,623.3L1923.7,622.1L1945.4,621.0L1945.4,646.9L1923.7,647.4L1902.0,648.1L1880.3,648.8L1858.6,649.7L1836.9,650.8L1815.2,652.1L1793.4,653.6L1771.7,655.4L1750.0,657.4L1728.3,659.7L1710.9,662.1L1697.9,664.6L1684.9,667.8L1676.2,670.4L1667.5,673.2L1658.8,676.4L1650.1,680.1L1641.4,684.5L1632.7,690.4L1628.4,694.2L1624.1,698.3L1620.6,702.3L1617.1,706.8L1613.6,711.3L1611.0,713.9L1608.4,716.7L1606.7,718.7L1604.9,720.7L1604.1,721.8L1603.2,722.8L1602.3,723.9L1601.5,725.0L1600.6,726.2L1600.2,726.8L1599.7,727.5L1599.3,728.2L1598.9,728.9L1598.7,729.2L1598.4,729.5L1598.2,729.8L1598.0,730.0Z" fill="rgba(254,0,206,0.25)" stroke="none"/><path d="M1598.0,718.0L1598.2,717.0L1598.4,716.0L1598.7,715.2L1598.9,714.5L1599.3,713.1L1599.7,711.9L1600.2,710.9L1600.6,710.0L1601.5,708.5L1602.3,707.2L1603.2,706.1L1604.1,705.0L1604.9,704.0L1606.7,702.1L1608.4,700.2L1611.0,697.7L1613.6,695.4L1617.1,692.4L1620.6,689.5L1624.1,686.8L1628.4,683.3L1632.7,680.0L1641.4,674.2L1650.1,669.6L1658.8,666.0L1667.5,662.9L1676.2,659.9L1684.9,657.6L1697.9,655.2L1710.9,653.2L1728.3,651.1L1750.0,649.0L1771.7,646.9L1793.4,644.7L1815.2,642.4L1836.9,640.3L1858.6,638.4L1880.3,636.7L1902.0,635.1L1923.7,633.6L1945.4,632.2" fill="none" stroke="#FE00CE" stroke-width="3.5" stroke-linejoin="round"/><path d="M1598.0,727.1L1607.1,736.2L1616.2,727.1L1607.1,718.0L1616.2,708.9L1607.1,699.8L1598.0,708.9L1588.9,699.8L1579.8,708.9L1588.9,718.0L1579.8,727.1L1588.9,736.2ZM1945.4,641.4L1954.5,650.5L1963.6,641.4L1954.5,632.3L1963.6,623.2L1954.5,614.1L1945.4,623.2L1936.4,614.1L1927.3,623.2L1936.4,632.3L1927.3,641.4L1936.4,650.5Z" fill="#FE00CE"/></g>
<g font-family='"DejaVu Sans", "Liberation Sans", sans-serif' font-size="20.8" fill="#2a3f5f" stroke="#2a3f5f" stroke-width="0.3"><text x="80.10" y="371.80" text-anchor="middle">0</text><text x="166.96" y="371.80" text-anchor="middle">100</text><text x="253.82" y="371.80" text-anchor="middle">200</text><text x="340.68" y="371.80" text-anchor="middle">300</text><text x="427.54" y="371.80" text-anchor="middle">400</text><text x="69.80" y="307.22" text-anchor="end">0.2</text><text x="69.80" y="246.94" text-anchor="end">0.4</text><text x="69.80" y="186.66" text-anchor="end">0.6</text><text x="69.80" y="126.38" text-anchor="end">0.8</text><text x="69.80" y="66.10" text-anchor="end">1</text><text x="585.70" y="371.80" text-anchor="middle">0</text><text x="672.56" y="371.80" text-anchor="middle">100</text><text x="759.42" y="371.80" text-anchor="middle">200</text><text x="846.28" y="371.80" text-anchor="middle">300</text><text x="933.14" y="371.80" text-anchor="middle">400</text><text x="575.40" y="307.22" text-anchor="end">0.2</text><text x="575.40" y="246.94" text-anchor="end">0.4</text><text x="575.40" y="186.66" text-anchor="end">0.6</text><text x="575.40" y="126.38" text-anchor="end">0.8</text><text x="575.40" y="66.10" text-anchor="end">1</text><text x="1092.70" y="371.80" text-anchor="middle">0</text><text x="1179.56" y="371.80" text-anchor="middle">100</text><text x="1266.42" y="371.80" text-anchor="middle">200</text><text x="1353.28" y="371.80" text-anchor="middle">300</text><text x="1440.14" y="371.80" text-anchor="middle">400</text><text x="1082.40" y="307.22" text-anchor="end">0.2</text><text x="1082.40" y="246.94" text-anchor="end">0.4</text><text x="1082.40" y="186.66" text-anchor="end">0.6</text><text x="1082.40" y="126.38" text-anchor="end">0.8</text><text x="1082.40" y="66.10" text-anchor="end">1</text><text x="1598.00" y="371.80" text-anchor="middle">0</text><text x="1684.86" y="371.80" text-anchor="middle">100</text><text x="1771.72" y="371.80" text-anchor="middle">200</text><text x="1858.58" y="371.80" text-anchor="middle">300</text><text x="1945.44" y="371.80" text-anchor="middle">400</text><text x="1587.70" y="307.22" text-anchor="end">0.2</text><text x="1587.70" y="246.94" text-anchor="end">0.4</text><text x="1587.70" y="186.66" text-anchor="end">0.6</text><text x="1587.70" y="126.38" text-anchor="end">0.8</text><text x="1587.70" y="66.10" text-anchor="end">1</text><text x="80.10" y="801.10" text-anchor="middle">0</text><text x="166.96" y="801.10" text-anchor="middle">100</text><text x="253.82" y="801.10" text-anchor="middle">200</text><text x="340.68" y="801.10" text-anchor="middle">300</text><text x="427.54" y="801.10" text-anchor="middle">400</text><text x="69.80" y="736.42" text-anchor="end">0.2</text><text x="69.80" y="676.14" text-anchor="end">0.4</text><text x="69.80" y="615.86" text-anchor="end">0.6</text><text x="69.80" y="555.58" text-anchor="end">0.8</text><text x="69.80" y="495.30" text-anchor="end">1</text><text x="585.70" y="801.10" text-anchor="middle">0</text><text x="672.56" y="801.10" text-anchor="middle">100</text><text x="759.42" y="801.10" text-anchor="middle">200</text><text x="846.28" y="801.10" text-anchor="middle">300</text><text x="933.14" y="801.10" text-anchor="middle">400</text><text x="575.40" y="736.42" text-anchor="end">0.2</text><text x="575.40" y="676.14" text-anchor="end">0.4</text><text x="575.40" y="615.86" text-anchor="end">0.6</text><text x="575.40" y="555.58" text-anchor="end">0.8</text><text x="575.40" y="495.30" text-anchor="end">1</text><text x="1092.70" y="801.10" text-anchor="middle">0</text><text x="1179.56" y="801.10" text-anchor="middle">100</text><text x="1266.42" y="801.10" text-anchor="middle">200</text><text x="1353.28" y="801.10" text-anchor="middle">300</text><text x="1440.14" y="801.10" text-anchor="middle">400</text><text x="1082.40" y="736.42" text-anchor="end">0.2</text><text x="1082.40" y="676.14" text-anchor="end">0.4</text><text x="1082.40" y="615.86" text-anchor="end">0.6</text><text x="1082.40" y="555.58" text-anchor="end">0.8</text><text x="1082.40" y="495.30" text-anchor="end">1</text><text x="1598.00" y="801.10" text-anchor="middle">0</text><text x="1684.86" y="801.10" text-anchor="middle">100</text><text x="1771.72" y="801.10" text-anchor="middle">200</text><text x="1858.58" y="801.10" text-anchor="middle">300</text><text x="1945.44" y="801.10" text-anchor="middle">400</text><text x="1587.70" y="736.42" text-anchor="end">0.2</text><text x="1587.70" y="676.14" text-anchor="end">0.4</text><text x="1587.70" y="615.86" text-anchor="end">0.6</text><text x="1587.70" y="555.58" text-anchor="end">0.8</text><text x="1587.70" y="495.30" text-anchor="end">1</text></g>
<g font-family='"DejaVu Sans", "Liberation Sans", sans-serif' font-size="24.0" fill="#2a3f5f"><text transform="translate(12.80,191.40) rotate(-90)" text-anchor="middle">p<tspan font-size="70%" dy="5.0">S</tspan></text><text transform="translate(518.40,191.40) rotate(-90)" text-anchor="middle">p<tspan font-size="70%" dy="5.0">S</tspan></text><text transform="translate(1025.40,191.40) rotate(-90)" text-anchor="middle">p<tspan font-size="70%" dy="5.0">S</tspan></text><text transform="translate(1530.70,191.40) rotate(-90)" text-anchor="middle">p<tspan font-size="70%" dy="5.0">S</tspan></text><text transform="translate(12.80,619.50) rotate(-90)" text-anchor="middle">p<tspan font-size="70%" dy="5.0">S</tspan></text><text transform="translate(518.40,619.50) rotate(-90)" text-anchor="middle">p<tspan font-size="70%" dy="5.0">S</tspan></text><text transform="translate(1025.40,619.50) rotate(-90)" text-anchor="middle">p<tspan font-size="70%" dy="5.0">S</tspan></text><text transform="translate(1530.70,619.50) rotate(-90)" text-anchor="middle">p<tspan font-size="70%" dy="5.0">S</tspan></text></g>
<text x="254.1" y="417.7" text-anchor="middle" font-family='"DejaVu Sans", "Liberation Sans", sans-serif' font-size="23.6" fill="#2a3f5f">epoch</text>
<g font-family='"DejaVu Sans", "Liberation Sans", sans-serif' font-size="26.9" fill="#2a3f5f"><text x="74.50" y="22.40">a) polbooks</text><text x="580.10" y="22.40">b) pso_128</text><text x="1087.10" y="22.40">c) pso_256</text><text x="1592.40" y="22.40">d) metabolic</text><text x="74.50" y="448.90">e) pso_512</text><text x="580.10" y="448.90">f) unicodelang</text><text x="1087.10" y="448.90">g) a_song_of_ice_and_fire</text><text x="1592.40" y="448.90">h) pso_1024</text></g>
<path d="M79.90,888.20h50.2" stroke="#FD3216" stroke-width="8.3"/><text transform="translate(138.60,902.80) scale(1,1.015)" font-family='"DejaVu Sans", "Liberation Sans", sans-serif' font-size="36.85" fill="#2a3f5f">RandomSampling</text><path d="M479.90,888.20h50.2" stroke="#00FE35" stroke-width="8.3"/><text transform="translate(538.70,902.80) scale(1,1.015)" font-family='"DejaVu Sans", "Liberation Sans", sans-serif' font-size="36.85" fill="#2a3f5f">DegreeDependentSampling</text><path d="M1066.00,888.20h50.2" stroke="#6A76FC" stroke-width="8.3"/><text transform="translate(1124.30,902.80) scale(1,1.015)" font-family='"DejaVu Sans", "Liberation Sans", sans-serif' font-size="36.85" fill="#2a3f5f">SourceDependentSampling</text><path d="M79.90,958.00h50.2" stroke="#FE00CE" stroke-width="8.3"/><text transform="translate(138.60,971.90) scale(1,1.015)" font-family='"DejaVu Sans", "Liberation Sans", sans-serif' font-size="36.85" fill="#2a3f5f">TargetDependentSampling</text>
</svg>
</body></html>
